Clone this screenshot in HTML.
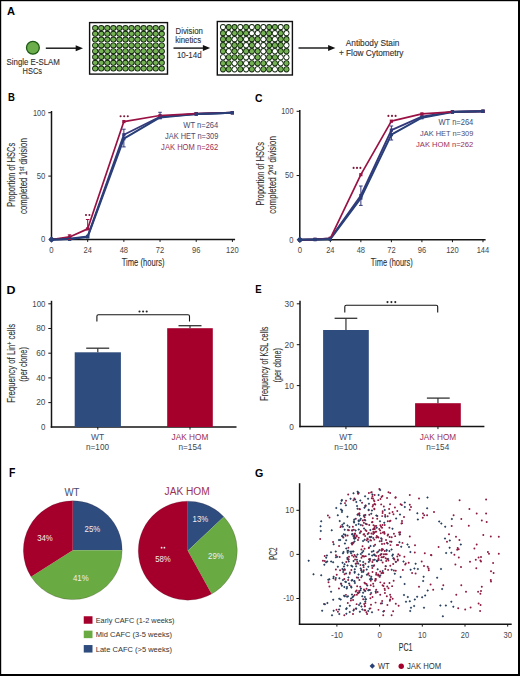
<!DOCTYPE html>
<html><head><meta charset="utf-8"><style>html,body{margin:0;padding:0;background:#fff;}svg{display:block;}</style></head>
<body><svg width="520" height="676" viewBox="0 0 520 676" font-family='"Liberation Sans", sans-serif'>
<rect width="520" height="676" fill="#fff"/>
<rect x="0.00" y="0.00" width="520.00" height="1.20" fill="#000"/>
<rect x="0.00" y="0.00" width="1.20" height="676.00" fill="#000"/>
<rect x="518.00" y="0.00" width="2.00" height="676.00" fill="#000"/>
<rect x="0.00" y="674.00" width="520.00" height="2.00" fill="#000"/>
<text x="7.00" y="15.00" font-size="11.63" fill="#000" stroke="#000" stroke-width="0" font-weight="bold" textLength="8.00" lengthAdjust="spacingAndGlyphs">A</text>
<circle cx="32.9" cy="47.8" r="6.4" fill="#6cae4c" stroke="#1e5a14" stroke-width="1.3"/>
<text x="6.50" y="64.80" font-size="8.87" fill="#2e2e2e" stroke="#2e2e2e" stroke-width="0.1" font-weight="normal" textLength="53.40" lengthAdjust="spacingAndGlyphs">Single E-SLAM</text>
<text x="22.60" y="74.20" font-size="9.16" fill="#2e2e2e" stroke="#2e2e2e" stroke-width="0.1" font-weight="normal" textLength="19.40" lengthAdjust="spacingAndGlyphs">HSCs</text>
<line x1="45.80" y1="48.20" x2="77.00" y2="48.20" stroke="#111" stroke-width="1.4"/>
<path d="M83.00,48.20 L75.70,45.20 L75.70,51.20 Z" fill="#111"/>
<line x1="173.50" y1="48.10" x2="204.20" y2="48.10" stroke="#111" stroke-width="1.4"/>
<path d="M210.20,48.10 L202.90,45.10 L202.90,51.10 Z" fill="#111"/>
<line x1="298.50" y1="48.00" x2="329.40" y2="48.00" stroke="#111" stroke-width="1.4"/>
<path d="M335.40,48.00 L328.10,45.00 L328.10,51.00 Z" fill="#111"/>
<text x="175.60" y="33.70" font-size="8.87" fill="#2e2e2e" stroke="#2e2e2e" stroke-width="0.1" font-weight="normal" textLength="27.30" lengthAdjust="spacingAndGlyphs">Division</text>
<text x="175.20" y="43.20" font-size="8.14" fill="#2e2e2e" stroke="#2e2e2e" stroke-width="0.1" font-weight="normal" textLength="25.90" lengthAdjust="spacingAndGlyphs">kinetics</text>
<text x="176.90" y="57.90" font-size="8.87" fill="#2e2e2e" stroke="#2e2e2e" stroke-width="0.1" font-weight="normal" textLength="24.70" lengthAdjust="spacingAndGlyphs">10-14d</text>
<text x="345.80" y="46.20" font-size="9.45" fill="#2e2e2e" stroke="#2e2e2e" stroke-width="0.1" font-weight="normal" textLength="53.60" lengthAdjust="spacingAndGlyphs">Antibody Stain</text>
<text x="338.90" y="55.90" font-size="8.14" fill="#2e2e2e" stroke="#2e2e2e" stroke-width="0.1" font-weight="normal" textLength="64.60" lengthAdjust="spacingAndGlyphs">+ Flow Cytometry</text>
<rect x="89.60" y="22.60" width="77.90" height="51.50" fill="#fff" stroke="#111" stroke-width="1.4"/>
<ellipse cx="95.20" cy="28.00" rx="3.12" ry="3.00" fill="#10260b"/>
<ellipse cx="101.25" cy="28.00" rx="3.12" ry="3.00" fill="#10260b"/>
<ellipse cx="107.30" cy="28.00" rx="3.12" ry="3.00" fill="#10260b"/>
<ellipse cx="113.35" cy="28.00" rx="3.12" ry="3.00" fill="#10260b"/>
<ellipse cx="119.40" cy="28.00" rx="3.12" ry="3.00" fill="#10260b"/>
<ellipse cx="125.45" cy="28.00" rx="3.12" ry="3.00" fill="#10260b"/>
<ellipse cx="131.50" cy="28.00" rx="3.12" ry="3.00" fill="#10260b"/>
<ellipse cx="137.55" cy="28.00" rx="3.12" ry="3.00" fill="#10260b"/>
<ellipse cx="143.60" cy="28.00" rx="3.12" ry="3.00" fill="#10260b"/>
<ellipse cx="149.65" cy="28.00" rx="3.12" ry="3.00" fill="#10260b"/>
<ellipse cx="155.70" cy="28.00" rx="3.12" ry="3.00" fill="#10260b"/>
<ellipse cx="161.75" cy="28.00" rx="3.12" ry="3.00" fill="#10260b"/>
<ellipse cx="95.20" cy="33.80" rx="3.12" ry="3.00" fill="#10260b"/>
<ellipse cx="101.25" cy="33.80" rx="3.12" ry="3.00" fill="#10260b"/>
<ellipse cx="107.30" cy="33.80" rx="3.12" ry="3.00" fill="#10260b"/>
<ellipse cx="113.35" cy="33.80" rx="3.12" ry="3.00" fill="#10260b"/>
<ellipse cx="119.40" cy="33.80" rx="3.12" ry="3.00" fill="#10260b"/>
<ellipse cx="125.45" cy="33.80" rx="3.12" ry="3.00" fill="#10260b"/>
<ellipse cx="131.50" cy="33.80" rx="3.12" ry="3.00" fill="#10260b"/>
<ellipse cx="137.55" cy="33.80" rx="3.12" ry="3.00" fill="#10260b"/>
<ellipse cx="143.60" cy="33.80" rx="3.12" ry="3.00" fill="#10260b"/>
<ellipse cx="149.65" cy="33.80" rx="3.12" ry="3.00" fill="#10260b"/>
<ellipse cx="155.70" cy="33.80" rx="3.12" ry="3.00" fill="#10260b"/>
<ellipse cx="161.75" cy="33.80" rx="3.12" ry="3.00" fill="#10260b"/>
<ellipse cx="95.20" cy="39.60" rx="3.12" ry="3.00" fill="#10260b"/>
<ellipse cx="101.25" cy="39.60" rx="3.12" ry="3.00" fill="#10260b"/>
<ellipse cx="107.30" cy="39.60" rx="3.12" ry="3.00" fill="#10260b"/>
<ellipse cx="113.35" cy="39.60" rx="3.12" ry="3.00" fill="#10260b"/>
<ellipse cx="119.40" cy="39.60" rx="3.12" ry="3.00" fill="#10260b"/>
<ellipse cx="125.45" cy="39.60" rx="3.12" ry="3.00" fill="#10260b"/>
<ellipse cx="131.50" cy="39.60" rx="3.12" ry="3.00" fill="#10260b"/>
<ellipse cx="137.55" cy="39.60" rx="3.12" ry="3.00" fill="#10260b"/>
<ellipse cx="143.60" cy="39.60" rx="3.12" ry="3.00" fill="#10260b"/>
<ellipse cx="149.65" cy="39.60" rx="3.12" ry="3.00" fill="#10260b"/>
<ellipse cx="155.70" cy="39.60" rx="3.12" ry="3.00" fill="#10260b"/>
<ellipse cx="161.75" cy="39.60" rx="3.12" ry="3.00" fill="#10260b"/>
<ellipse cx="95.20" cy="45.40" rx="3.12" ry="3.00" fill="#10260b"/>
<ellipse cx="101.25" cy="45.40" rx="3.12" ry="3.00" fill="#10260b"/>
<ellipse cx="107.30" cy="45.40" rx="3.12" ry="3.00" fill="#10260b"/>
<ellipse cx="113.35" cy="45.40" rx="3.12" ry="3.00" fill="#10260b"/>
<ellipse cx="119.40" cy="45.40" rx="3.12" ry="3.00" fill="#10260b"/>
<ellipse cx="125.45" cy="45.40" rx="3.12" ry="3.00" fill="#10260b"/>
<ellipse cx="131.50" cy="45.40" rx="3.12" ry="3.00" fill="#10260b"/>
<ellipse cx="137.55" cy="45.40" rx="3.12" ry="3.00" fill="#10260b"/>
<ellipse cx="143.60" cy="45.40" rx="3.12" ry="3.00" fill="#10260b"/>
<ellipse cx="149.65" cy="45.40" rx="3.12" ry="3.00" fill="#10260b"/>
<ellipse cx="155.70" cy="45.40" rx="3.12" ry="3.00" fill="#10260b"/>
<ellipse cx="161.75" cy="45.40" rx="3.12" ry="3.00" fill="#10260b"/>
<ellipse cx="95.20" cy="51.20" rx="3.12" ry="3.00" fill="#10260b"/>
<ellipse cx="101.25" cy="51.20" rx="3.12" ry="3.00" fill="#10260b"/>
<ellipse cx="107.30" cy="51.20" rx="3.12" ry="3.00" fill="#10260b"/>
<ellipse cx="113.35" cy="51.20" rx="3.12" ry="3.00" fill="#10260b"/>
<ellipse cx="119.40" cy="51.20" rx="3.12" ry="3.00" fill="#10260b"/>
<ellipse cx="125.45" cy="51.20" rx="3.12" ry="3.00" fill="#10260b"/>
<ellipse cx="131.50" cy="51.20" rx="3.12" ry="3.00" fill="#10260b"/>
<ellipse cx="137.55" cy="51.20" rx="3.12" ry="3.00" fill="#10260b"/>
<ellipse cx="143.60" cy="51.20" rx="3.12" ry="3.00" fill="#10260b"/>
<ellipse cx="149.65" cy="51.20" rx="3.12" ry="3.00" fill="#10260b"/>
<ellipse cx="155.70" cy="51.20" rx="3.12" ry="3.00" fill="#10260b"/>
<ellipse cx="161.75" cy="51.20" rx="3.12" ry="3.00" fill="#10260b"/>
<ellipse cx="95.20" cy="57.00" rx="3.12" ry="3.00" fill="#10260b"/>
<ellipse cx="101.25" cy="57.00" rx="3.12" ry="3.00" fill="#10260b"/>
<ellipse cx="107.30" cy="57.00" rx="3.12" ry="3.00" fill="#10260b"/>
<ellipse cx="113.35" cy="57.00" rx="3.12" ry="3.00" fill="#10260b"/>
<ellipse cx="119.40" cy="57.00" rx="3.12" ry="3.00" fill="#10260b"/>
<ellipse cx="125.45" cy="57.00" rx="3.12" ry="3.00" fill="#10260b"/>
<ellipse cx="131.50" cy="57.00" rx="3.12" ry="3.00" fill="#10260b"/>
<ellipse cx="137.55" cy="57.00" rx="3.12" ry="3.00" fill="#10260b"/>
<ellipse cx="143.60" cy="57.00" rx="3.12" ry="3.00" fill="#10260b"/>
<ellipse cx="149.65" cy="57.00" rx="3.12" ry="3.00" fill="#10260b"/>
<ellipse cx="155.70" cy="57.00" rx="3.12" ry="3.00" fill="#10260b"/>
<ellipse cx="161.75" cy="57.00" rx="3.12" ry="3.00" fill="#10260b"/>
<ellipse cx="95.20" cy="62.80" rx="3.12" ry="3.00" fill="#10260b"/>
<ellipse cx="101.25" cy="62.80" rx="3.12" ry="3.00" fill="#10260b"/>
<ellipse cx="107.30" cy="62.80" rx="3.12" ry="3.00" fill="#10260b"/>
<ellipse cx="113.35" cy="62.80" rx="3.12" ry="3.00" fill="#10260b"/>
<ellipse cx="119.40" cy="62.80" rx="3.12" ry="3.00" fill="#10260b"/>
<ellipse cx="125.45" cy="62.80" rx="3.12" ry="3.00" fill="#10260b"/>
<ellipse cx="131.50" cy="62.80" rx="3.12" ry="3.00" fill="#10260b"/>
<ellipse cx="137.55" cy="62.80" rx="3.12" ry="3.00" fill="#10260b"/>
<ellipse cx="143.60" cy="62.80" rx="3.12" ry="3.00" fill="#10260b"/>
<ellipse cx="149.65" cy="62.80" rx="3.12" ry="3.00" fill="#10260b"/>
<ellipse cx="155.70" cy="62.80" rx="3.12" ry="3.00" fill="#10260b"/>
<ellipse cx="161.75" cy="62.80" rx="3.12" ry="3.00" fill="#10260b"/>
<ellipse cx="95.20" cy="68.60" rx="3.12" ry="3.00" fill="#10260b"/>
<ellipse cx="101.25" cy="68.60" rx="3.12" ry="3.00" fill="#10260b"/>
<ellipse cx="107.30" cy="68.60" rx="3.12" ry="3.00" fill="#10260b"/>
<ellipse cx="113.35" cy="68.60" rx="3.12" ry="3.00" fill="#10260b"/>
<ellipse cx="119.40" cy="68.60" rx="3.12" ry="3.00" fill="#10260b"/>
<ellipse cx="125.45" cy="68.60" rx="3.12" ry="3.00" fill="#10260b"/>
<ellipse cx="131.50" cy="68.60" rx="3.12" ry="3.00" fill="#10260b"/>
<ellipse cx="137.55" cy="68.60" rx="3.12" ry="3.00" fill="#10260b"/>
<ellipse cx="143.60" cy="68.60" rx="3.12" ry="3.00" fill="#10260b"/>
<ellipse cx="149.65" cy="68.60" rx="3.12" ry="3.00" fill="#10260b"/>
<ellipse cx="155.70" cy="68.60" rx="3.12" ry="3.00" fill="#10260b"/>
<ellipse cx="161.75" cy="68.60" rx="3.12" ry="3.00" fill="#10260b"/>
<ellipse cx="95.20" cy="28.00" rx="2.22" ry="2.10" fill="#74b254"/>
<ellipse cx="101.25" cy="28.00" rx="2.22" ry="2.10" fill="#74b254"/>
<ellipse cx="107.30" cy="28.00" rx="2.22" ry="2.10" fill="#74b254"/>
<ellipse cx="113.35" cy="28.00" rx="2.22" ry="2.10" fill="#74b254"/>
<ellipse cx="119.40" cy="28.00" rx="2.22" ry="2.10" fill="#74b254"/>
<ellipse cx="125.45" cy="28.00" rx="2.22" ry="2.10" fill="#74b254"/>
<ellipse cx="131.50" cy="28.00" rx="2.22" ry="2.10" fill="#74b254"/>
<ellipse cx="137.55" cy="28.00" rx="2.22" ry="2.10" fill="#74b254"/>
<ellipse cx="143.60" cy="28.00" rx="2.22" ry="2.10" fill="#74b254"/>
<ellipse cx="149.65" cy="28.00" rx="2.22" ry="2.10" fill="#74b254"/>
<ellipse cx="155.70" cy="28.00" rx="2.22" ry="2.10" fill="#74b254"/>
<ellipse cx="161.75" cy="28.00" rx="2.22" ry="2.10" fill="#74b254"/>
<ellipse cx="95.20" cy="33.80" rx="2.22" ry="2.10" fill="#74b254"/>
<ellipse cx="101.25" cy="33.80" rx="2.22" ry="2.10" fill="#74b254"/>
<ellipse cx="107.30" cy="33.80" rx="2.22" ry="2.10" fill="#74b254"/>
<ellipse cx="113.35" cy="33.80" rx="2.22" ry="2.10" fill="#74b254"/>
<ellipse cx="119.40" cy="33.80" rx="2.22" ry="2.10" fill="#74b254"/>
<ellipse cx="125.45" cy="33.80" rx="2.22" ry="2.10" fill="#74b254"/>
<ellipse cx="131.50" cy="33.80" rx="2.22" ry="2.10" fill="#74b254"/>
<ellipse cx="137.55" cy="33.80" rx="2.22" ry="2.10" fill="#74b254"/>
<ellipse cx="143.60" cy="33.80" rx="2.22" ry="2.10" fill="#74b254"/>
<ellipse cx="149.65" cy="33.80" rx="2.22" ry="2.10" fill="#74b254"/>
<ellipse cx="155.70" cy="33.80" rx="2.22" ry="2.10" fill="#74b254"/>
<ellipse cx="161.75" cy="33.80" rx="2.22" ry="2.10" fill="#74b254"/>
<ellipse cx="95.20" cy="39.60" rx="2.22" ry="2.10" fill="#74b254"/>
<ellipse cx="101.25" cy="39.60" rx="2.22" ry="2.10" fill="#74b254"/>
<ellipse cx="107.30" cy="39.60" rx="2.22" ry="2.10" fill="#74b254"/>
<ellipse cx="113.35" cy="39.60" rx="2.22" ry="2.10" fill="#74b254"/>
<ellipse cx="119.40" cy="39.60" rx="2.22" ry="2.10" fill="#74b254"/>
<ellipse cx="125.45" cy="39.60" rx="2.22" ry="2.10" fill="#74b254"/>
<ellipse cx="131.50" cy="39.60" rx="2.22" ry="2.10" fill="#74b254"/>
<ellipse cx="137.55" cy="39.60" rx="2.22" ry="2.10" fill="#74b254"/>
<ellipse cx="143.60" cy="39.60" rx="2.22" ry="2.10" fill="#74b254"/>
<ellipse cx="149.65" cy="39.60" rx="2.22" ry="2.10" fill="#74b254"/>
<ellipse cx="155.70" cy="39.60" rx="2.22" ry="2.10" fill="#74b254"/>
<ellipse cx="161.75" cy="39.60" rx="2.22" ry="2.10" fill="#74b254"/>
<ellipse cx="95.20" cy="45.40" rx="2.22" ry="2.10" fill="#74b254"/>
<ellipse cx="101.25" cy="45.40" rx="2.22" ry="2.10" fill="#74b254"/>
<ellipse cx="107.30" cy="45.40" rx="2.22" ry="2.10" fill="#74b254"/>
<ellipse cx="113.35" cy="45.40" rx="2.22" ry="2.10" fill="#74b254"/>
<ellipse cx="119.40" cy="45.40" rx="2.22" ry="2.10" fill="#74b254"/>
<ellipse cx="125.45" cy="45.40" rx="2.22" ry="2.10" fill="#74b254"/>
<ellipse cx="131.50" cy="45.40" rx="2.22" ry="2.10" fill="#74b254"/>
<ellipse cx="137.55" cy="45.40" rx="2.22" ry="2.10" fill="#74b254"/>
<ellipse cx="143.60" cy="45.40" rx="2.22" ry="2.10" fill="#74b254"/>
<ellipse cx="149.65" cy="45.40" rx="2.22" ry="2.10" fill="#74b254"/>
<ellipse cx="155.70" cy="45.40" rx="2.22" ry="2.10" fill="#74b254"/>
<ellipse cx="161.75" cy="45.40" rx="2.22" ry="2.10" fill="#74b254"/>
<ellipse cx="95.20" cy="51.20" rx="2.22" ry="2.10" fill="#74b254"/>
<ellipse cx="101.25" cy="51.20" rx="2.22" ry="2.10" fill="#74b254"/>
<ellipse cx="107.30" cy="51.20" rx="2.22" ry="2.10" fill="#74b254"/>
<ellipse cx="113.35" cy="51.20" rx="2.22" ry="2.10" fill="#74b254"/>
<ellipse cx="119.40" cy="51.20" rx="2.22" ry="2.10" fill="#74b254"/>
<ellipse cx="125.45" cy="51.20" rx="2.22" ry="2.10" fill="#74b254"/>
<ellipse cx="131.50" cy="51.20" rx="2.22" ry="2.10" fill="#74b254"/>
<ellipse cx="137.55" cy="51.20" rx="2.22" ry="2.10" fill="#74b254"/>
<ellipse cx="143.60" cy="51.20" rx="2.22" ry="2.10" fill="#74b254"/>
<ellipse cx="149.65" cy="51.20" rx="2.22" ry="2.10" fill="#74b254"/>
<ellipse cx="155.70" cy="51.20" rx="2.22" ry="2.10" fill="#74b254"/>
<ellipse cx="161.75" cy="51.20" rx="2.22" ry="2.10" fill="#74b254"/>
<ellipse cx="95.20" cy="57.00" rx="2.22" ry="2.10" fill="#74b254"/>
<ellipse cx="101.25" cy="57.00" rx="2.22" ry="2.10" fill="#74b254"/>
<ellipse cx="107.30" cy="57.00" rx="2.22" ry="2.10" fill="#74b254"/>
<ellipse cx="113.35" cy="57.00" rx="2.22" ry="2.10" fill="#74b254"/>
<ellipse cx="119.40" cy="57.00" rx="2.22" ry="2.10" fill="#74b254"/>
<ellipse cx="125.45" cy="57.00" rx="2.22" ry="2.10" fill="#74b254"/>
<ellipse cx="131.50" cy="57.00" rx="2.22" ry="2.10" fill="#74b254"/>
<ellipse cx="137.55" cy="57.00" rx="2.22" ry="2.10" fill="#74b254"/>
<ellipse cx="143.60" cy="57.00" rx="2.22" ry="2.10" fill="#74b254"/>
<ellipse cx="149.65" cy="57.00" rx="2.22" ry="2.10" fill="#74b254"/>
<ellipse cx="155.70" cy="57.00" rx="2.22" ry="2.10" fill="#74b254"/>
<ellipse cx="161.75" cy="57.00" rx="2.22" ry="2.10" fill="#74b254"/>
<ellipse cx="95.20" cy="62.80" rx="2.22" ry="2.10" fill="#74b254"/>
<ellipse cx="101.25" cy="62.80" rx="2.22" ry="2.10" fill="#74b254"/>
<ellipse cx="107.30" cy="62.80" rx="2.22" ry="2.10" fill="#74b254"/>
<ellipse cx="113.35" cy="62.80" rx="2.22" ry="2.10" fill="#74b254"/>
<ellipse cx="119.40" cy="62.80" rx="2.22" ry="2.10" fill="#74b254"/>
<ellipse cx="125.45" cy="62.80" rx="2.22" ry="2.10" fill="#74b254"/>
<ellipse cx="131.50" cy="62.80" rx="2.22" ry="2.10" fill="#74b254"/>
<ellipse cx="137.55" cy="62.80" rx="2.22" ry="2.10" fill="#74b254"/>
<ellipse cx="143.60" cy="62.80" rx="2.22" ry="2.10" fill="#74b254"/>
<ellipse cx="149.65" cy="62.80" rx="2.22" ry="2.10" fill="#74b254"/>
<ellipse cx="155.70" cy="62.80" rx="2.22" ry="2.10" fill="#74b254"/>
<ellipse cx="161.75" cy="62.80" rx="2.22" ry="2.10" fill="#74b254"/>
<ellipse cx="95.20" cy="68.60" rx="2.22" ry="2.10" fill="#74b254"/>
<ellipse cx="101.25" cy="68.60" rx="2.22" ry="2.10" fill="#74b254"/>
<ellipse cx="107.30" cy="68.60" rx="2.22" ry="2.10" fill="#74b254"/>
<ellipse cx="113.35" cy="68.60" rx="2.22" ry="2.10" fill="#74b254"/>
<ellipse cx="119.40" cy="68.60" rx="2.22" ry="2.10" fill="#74b254"/>
<ellipse cx="125.45" cy="68.60" rx="2.22" ry="2.10" fill="#74b254"/>
<ellipse cx="131.50" cy="68.60" rx="2.22" ry="2.10" fill="#74b254"/>
<ellipse cx="137.55" cy="68.60" rx="2.22" ry="2.10" fill="#74b254"/>
<ellipse cx="143.60" cy="68.60" rx="2.22" ry="2.10" fill="#74b254"/>
<ellipse cx="149.65" cy="68.60" rx="2.22" ry="2.10" fill="#74b254"/>
<ellipse cx="155.70" cy="68.60" rx="2.22" ry="2.10" fill="#74b254"/>
<ellipse cx="161.75" cy="68.60" rx="2.22" ry="2.10" fill="#74b254"/>
<rect x="217.30" y="21.50" width="75.10" height="53.50" fill="#fff" stroke="#111" stroke-width="1.4"/>
<ellipse cx="223.00" cy="27.10" rx="2.98" ry="3.12" fill="#10260b"/>
<ellipse cx="228.77" cy="27.10" rx="2.98" ry="3.12" fill="#10260b"/>
<ellipse cx="234.54" cy="27.10" rx="2.98" ry="3.12" fill="#10260b"/>
<ellipse cx="240.31" cy="27.10" rx="2.98" ry="3.12" fill="#10260b"/>
<ellipse cx="246.08" cy="27.10" rx="2.98" ry="3.12" fill="#10260b"/>
<ellipse cx="251.85" cy="27.10" rx="2.98" ry="3.12" fill="#10260b"/>
<ellipse cx="257.62" cy="27.10" rx="2.98" ry="3.12" fill="#10260b"/>
<ellipse cx="263.39" cy="27.10" rx="2.98" ry="3.12" fill="#10260b"/>
<ellipse cx="269.16" cy="27.10" rx="2.98" ry="3.12" fill="#10260b"/>
<ellipse cx="274.93" cy="27.10" rx="2.98" ry="3.12" fill="#10260b"/>
<ellipse cx="280.70" cy="27.10" rx="2.98" ry="3.12" fill="#10260b"/>
<ellipse cx="286.47" cy="27.10" rx="2.98" ry="3.12" fill="#10260b"/>
<ellipse cx="223.00" cy="33.13" rx="2.98" ry="3.12" fill="#10260b"/>
<ellipse cx="228.77" cy="33.13" rx="2.98" ry="3.12" fill="#10260b"/>
<ellipse cx="234.54" cy="33.13" rx="2.98" ry="3.12" fill="#10260b"/>
<ellipse cx="240.31" cy="33.13" rx="2.98" ry="3.12" fill="#10260b"/>
<ellipse cx="246.08" cy="33.13" rx="2.98" ry="3.12" fill="#10260b"/>
<ellipse cx="251.85" cy="33.13" rx="2.98" ry="3.12" fill="#10260b"/>
<ellipse cx="257.62" cy="33.13" rx="2.98" ry="3.12" fill="#10260b"/>
<ellipse cx="263.39" cy="33.13" rx="2.98" ry="3.12" fill="#10260b"/>
<ellipse cx="269.16" cy="33.13" rx="2.98" ry="3.12" fill="#10260b"/>
<ellipse cx="274.93" cy="33.13" rx="2.98" ry="3.12" fill="#10260b"/>
<ellipse cx="280.70" cy="33.13" rx="2.98" ry="3.12" fill="#10260b"/>
<ellipse cx="286.47" cy="33.13" rx="2.98" ry="3.12" fill="#10260b"/>
<ellipse cx="223.00" cy="39.16" rx="2.98" ry="3.12" fill="#10260b"/>
<ellipse cx="228.77" cy="39.16" rx="2.98" ry="3.12" fill="#10260b"/>
<ellipse cx="234.54" cy="39.16" rx="2.98" ry="3.12" fill="#10260b"/>
<ellipse cx="240.31" cy="39.16" rx="2.98" ry="3.12" fill="#10260b"/>
<ellipse cx="246.08" cy="39.16" rx="2.98" ry="3.12" fill="#10260b"/>
<ellipse cx="251.85" cy="39.16" rx="2.98" ry="3.12" fill="#10260b"/>
<ellipse cx="257.62" cy="39.16" rx="2.98" ry="3.12" fill="#10260b"/>
<ellipse cx="263.39" cy="39.16" rx="2.98" ry="3.12" fill="#10260b"/>
<ellipse cx="269.16" cy="39.16" rx="2.98" ry="3.12" fill="#10260b"/>
<ellipse cx="274.93" cy="39.16" rx="2.98" ry="3.12" fill="#10260b"/>
<ellipse cx="280.70" cy="39.16" rx="2.98" ry="3.12" fill="#10260b"/>
<ellipse cx="286.47" cy="39.16" rx="2.98" ry="3.12" fill="#10260b"/>
<ellipse cx="223.00" cy="45.19" rx="2.98" ry="3.12" fill="#10260b"/>
<ellipse cx="228.77" cy="45.19" rx="2.98" ry="3.12" fill="#10260b"/>
<ellipse cx="234.54" cy="45.19" rx="2.98" ry="3.12" fill="#10260b"/>
<ellipse cx="240.31" cy="45.19" rx="2.98" ry="3.12" fill="#10260b"/>
<ellipse cx="246.08" cy="45.19" rx="2.98" ry="3.12" fill="#10260b"/>
<ellipse cx="251.85" cy="45.19" rx="2.98" ry="3.12" fill="#10260b"/>
<ellipse cx="257.62" cy="45.19" rx="2.98" ry="3.12" fill="#10260b"/>
<ellipse cx="263.39" cy="45.19" rx="2.98" ry="3.12" fill="#10260b"/>
<ellipse cx="269.16" cy="45.19" rx="2.98" ry="3.12" fill="#10260b"/>
<ellipse cx="274.93" cy="45.19" rx="2.98" ry="3.12" fill="#10260b"/>
<ellipse cx="280.70" cy="45.19" rx="2.98" ry="3.12" fill="#10260b"/>
<ellipse cx="286.47" cy="45.19" rx="2.98" ry="3.12" fill="#10260b"/>
<ellipse cx="223.00" cy="51.22" rx="2.98" ry="3.12" fill="#10260b"/>
<ellipse cx="228.77" cy="51.22" rx="2.98" ry="3.12" fill="#10260b"/>
<ellipse cx="234.54" cy="51.22" rx="2.98" ry="3.12" fill="#10260b"/>
<ellipse cx="240.31" cy="51.22" rx="2.98" ry="3.12" fill="#10260b"/>
<ellipse cx="246.08" cy="51.22" rx="2.98" ry="3.12" fill="#10260b"/>
<ellipse cx="251.85" cy="51.22" rx="2.98" ry="3.12" fill="#10260b"/>
<ellipse cx="257.62" cy="51.22" rx="2.98" ry="3.12" fill="#10260b"/>
<ellipse cx="263.39" cy="51.22" rx="2.98" ry="3.12" fill="#10260b"/>
<ellipse cx="269.16" cy="51.22" rx="2.98" ry="3.12" fill="#10260b"/>
<ellipse cx="274.93" cy="51.22" rx="2.98" ry="3.12" fill="#10260b"/>
<ellipse cx="280.70" cy="51.22" rx="2.98" ry="3.12" fill="#10260b"/>
<ellipse cx="286.47" cy="51.22" rx="2.98" ry="3.12" fill="#10260b"/>
<ellipse cx="223.00" cy="57.25" rx="2.98" ry="3.12" fill="#10260b"/>
<ellipse cx="228.77" cy="57.25" rx="2.98" ry="3.12" fill="#10260b"/>
<ellipse cx="234.54" cy="57.25" rx="2.98" ry="3.12" fill="#10260b"/>
<ellipse cx="240.31" cy="57.25" rx="2.98" ry="3.12" fill="#10260b"/>
<ellipse cx="246.08" cy="57.25" rx="2.98" ry="3.12" fill="#10260b"/>
<ellipse cx="251.85" cy="57.25" rx="2.98" ry="3.12" fill="#10260b"/>
<ellipse cx="257.62" cy="57.25" rx="2.98" ry="3.12" fill="#10260b"/>
<ellipse cx="263.39" cy="57.25" rx="2.98" ry="3.12" fill="#10260b"/>
<ellipse cx="269.16" cy="57.25" rx="2.98" ry="3.12" fill="#10260b"/>
<ellipse cx="274.93" cy="57.25" rx="2.98" ry="3.12" fill="#10260b"/>
<ellipse cx="280.70" cy="57.25" rx="2.98" ry="3.12" fill="#10260b"/>
<ellipse cx="286.47" cy="57.25" rx="2.98" ry="3.12" fill="#10260b"/>
<ellipse cx="223.00" cy="63.28" rx="2.98" ry="3.12" fill="#10260b"/>
<ellipse cx="228.77" cy="63.28" rx="2.98" ry="3.12" fill="#10260b"/>
<ellipse cx="234.54" cy="63.28" rx="2.98" ry="3.12" fill="#10260b"/>
<ellipse cx="240.31" cy="63.28" rx="2.98" ry="3.12" fill="#10260b"/>
<ellipse cx="246.08" cy="63.28" rx="2.98" ry="3.12" fill="#10260b"/>
<ellipse cx="251.85" cy="63.28" rx="2.98" ry="3.12" fill="#10260b"/>
<ellipse cx="257.62" cy="63.28" rx="2.98" ry="3.12" fill="#10260b"/>
<ellipse cx="263.39" cy="63.28" rx="2.98" ry="3.12" fill="#10260b"/>
<ellipse cx="269.16" cy="63.28" rx="2.98" ry="3.12" fill="#10260b"/>
<ellipse cx="274.93" cy="63.28" rx="2.98" ry="3.12" fill="#10260b"/>
<ellipse cx="280.70" cy="63.28" rx="2.98" ry="3.12" fill="#10260b"/>
<ellipse cx="286.47" cy="63.28" rx="2.98" ry="3.12" fill="#10260b"/>
<ellipse cx="223.00" cy="69.31" rx="2.98" ry="3.12" fill="#10260b"/>
<ellipse cx="228.77" cy="69.31" rx="2.98" ry="3.12" fill="#10260b"/>
<ellipse cx="234.54" cy="69.31" rx="2.98" ry="3.12" fill="#10260b"/>
<ellipse cx="240.31" cy="69.31" rx="2.98" ry="3.12" fill="#10260b"/>
<ellipse cx="246.08" cy="69.31" rx="2.98" ry="3.12" fill="#10260b"/>
<ellipse cx="251.85" cy="69.31" rx="2.98" ry="3.12" fill="#10260b"/>
<ellipse cx="257.62" cy="69.31" rx="2.98" ry="3.12" fill="#10260b"/>
<ellipse cx="263.39" cy="69.31" rx="2.98" ry="3.12" fill="#10260b"/>
<ellipse cx="269.16" cy="69.31" rx="2.98" ry="3.12" fill="#10260b"/>
<ellipse cx="274.93" cy="69.31" rx="2.98" ry="3.12" fill="#10260b"/>
<ellipse cx="280.70" cy="69.31" rx="2.98" ry="3.12" fill="#10260b"/>
<ellipse cx="286.47" cy="69.31" rx="2.98" ry="3.12" fill="#10260b"/>
<ellipse cx="223.00" cy="27.10" rx="2.08" ry="2.21" fill="#ffffff"/>
<ellipse cx="228.77" cy="27.10" rx="2.08" ry="2.21" fill="#74b254"/>
<ellipse cx="234.54" cy="27.10" rx="2.08" ry="2.21" fill="#74b254"/>
<ellipse cx="240.31" cy="27.10" rx="2.08" ry="2.21" fill="#ffffff"/>
<ellipse cx="246.08" cy="27.10" rx="2.08" ry="2.21" fill="#74b254"/>
<ellipse cx="251.85" cy="27.10" rx="2.08" ry="2.21" fill="#ffffff"/>
<ellipse cx="257.62" cy="27.10" rx="2.08" ry="2.21" fill="#74b254"/>
<ellipse cx="263.39" cy="27.10" rx="2.08" ry="2.21" fill="#ffffff"/>
<ellipse cx="269.16" cy="27.10" rx="2.08" ry="2.21" fill="#74b254"/>
<ellipse cx="274.93" cy="27.10" rx="2.08" ry="2.21" fill="#74b254"/>
<ellipse cx="280.70" cy="27.10" rx="2.08" ry="2.21" fill="#ffffff"/>
<ellipse cx="286.47" cy="27.10" rx="2.08" ry="2.21" fill="#74b254"/>
<ellipse cx="223.00" cy="33.13" rx="2.08" ry="2.21" fill="#74b254"/>
<ellipse cx="228.77" cy="33.13" rx="2.08" ry="2.21" fill="#ffffff"/>
<ellipse cx="234.54" cy="33.13" rx="2.08" ry="2.21" fill="#74b254"/>
<ellipse cx="240.31" cy="33.13" rx="2.08" ry="2.21" fill="#74b254"/>
<ellipse cx="246.08" cy="33.13" rx="2.08" ry="2.21" fill="#74b254"/>
<ellipse cx="251.85" cy="33.13" rx="2.08" ry="2.21" fill="#ffffff"/>
<ellipse cx="257.62" cy="33.13" rx="2.08" ry="2.21" fill="#ffffff"/>
<ellipse cx="263.39" cy="33.13" rx="2.08" ry="2.21" fill="#74b254"/>
<ellipse cx="269.16" cy="33.13" rx="2.08" ry="2.21" fill="#74b254"/>
<ellipse cx="274.93" cy="33.13" rx="2.08" ry="2.21" fill="#ffffff"/>
<ellipse cx="280.70" cy="33.13" rx="2.08" ry="2.21" fill="#74b254"/>
<ellipse cx="286.47" cy="33.13" rx="2.08" ry="2.21" fill="#ffffff"/>
<ellipse cx="223.00" cy="39.16" rx="2.08" ry="2.21" fill="#74b254"/>
<ellipse cx="228.77" cy="39.16" rx="2.08" ry="2.21" fill="#74b254"/>
<ellipse cx="234.54" cy="39.16" rx="2.08" ry="2.21" fill="#ffffff"/>
<ellipse cx="240.31" cy="39.16" rx="2.08" ry="2.21" fill="#74b254"/>
<ellipse cx="246.08" cy="39.16" rx="2.08" ry="2.21" fill="#ffffff"/>
<ellipse cx="251.85" cy="39.16" rx="2.08" ry="2.21" fill="#74b254"/>
<ellipse cx="257.62" cy="39.16" rx="2.08" ry="2.21" fill="#74b254"/>
<ellipse cx="263.39" cy="39.16" rx="2.08" ry="2.21" fill="#ffffff"/>
<ellipse cx="269.16" cy="39.16" rx="2.08" ry="2.21" fill="#74b254"/>
<ellipse cx="274.93" cy="39.16" rx="2.08" ry="2.21" fill="#ffffff"/>
<ellipse cx="280.70" cy="39.16" rx="2.08" ry="2.21" fill="#74b254"/>
<ellipse cx="286.47" cy="39.16" rx="2.08" ry="2.21" fill="#74b254"/>
<ellipse cx="223.00" cy="45.19" rx="2.08" ry="2.21" fill="#74b254"/>
<ellipse cx="228.77" cy="45.19" rx="2.08" ry="2.21" fill="#ffffff"/>
<ellipse cx="234.54" cy="45.19" rx="2.08" ry="2.21" fill="#74b254"/>
<ellipse cx="240.31" cy="45.19" rx="2.08" ry="2.21" fill="#74b254"/>
<ellipse cx="246.08" cy="45.19" rx="2.08" ry="2.21" fill="#ffffff"/>
<ellipse cx="251.85" cy="45.19" rx="2.08" ry="2.21" fill="#74b254"/>
<ellipse cx="257.62" cy="45.19" rx="2.08" ry="2.21" fill="#ffffff"/>
<ellipse cx="263.39" cy="45.19" rx="2.08" ry="2.21" fill="#ffffff"/>
<ellipse cx="269.16" cy="45.19" rx="2.08" ry="2.21" fill="#74b254"/>
<ellipse cx="274.93" cy="45.19" rx="2.08" ry="2.21" fill="#74b254"/>
<ellipse cx="280.70" cy="45.19" rx="2.08" ry="2.21" fill="#74b254"/>
<ellipse cx="286.47" cy="45.19" rx="2.08" ry="2.21" fill="#ffffff"/>
<ellipse cx="223.00" cy="51.22" rx="2.08" ry="2.21" fill="#74b254"/>
<ellipse cx="228.77" cy="51.22" rx="2.08" ry="2.21" fill="#ffffff"/>
<ellipse cx="234.54" cy="51.22" rx="2.08" ry="2.21" fill="#74b254"/>
<ellipse cx="240.31" cy="51.22" rx="2.08" ry="2.21" fill="#ffffff"/>
<ellipse cx="246.08" cy="51.22" rx="2.08" ry="2.21" fill="#74b254"/>
<ellipse cx="251.85" cy="51.22" rx="2.08" ry="2.21" fill="#74b254"/>
<ellipse cx="257.62" cy="51.22" rx="2.08" ry="2.21" fill="#74b254"/>
<ellipse cx="263.39" cy="51.22" rx="2.08" ry="2.21" fill="#ffffff"/>
<ellipse cx="269.16" cy="51.22" rx="2.08" ry="2.21" fill="#74b254"/>
<ellipse cx="274.93" cy="51.22" rx="2.08" ry="2.21" fill="#ffffff"/>
<ellipse cx="280.70" cy="51.22" rx="2.08" ry="2.21" fill="#74b254"/>
<ellipse cx="286.47" cy="51.22" rx="2.08" ry="2.21" fill="#74b254"/>
<ellipse cx="223.00" cy="57.25" rx="2.08" ry="2.21" fill="#ffffff"/>
<ellipse cx="228.77" cy="57.25" rx="2.08" ry="2.21" fill="#74b254"/>
<ellipse cx="234.54" cy="57.25" rx="2.08" ry="2.21" fill="#74b254"/>
<ellipse cx="240.31" cy="57.25" rx="2.08" ry="2.21" fill="#74b254"/>
<ellipse cx="246.08" cy="57.25" rx="2.08" ry="2.21" fill="#ffffff"/>
<ellipse cx="251.85" cy="57.25" rx="2.08" ry="2.21" fill="#ffffff"/>
<ellipse cx="257.62" cy="57.25" rx="2.08" ry="2.21" fill="#74b254"/>
<ellipse cx="263.39" cy="57.25" rx="2.08" ry="2.21" fill="#ffffff"/>
<ellipse cx="269.16" cy="57.25" rx="2.08" ry="2.21" fill="#74b254"/>
<ellipse cx="274.93" cy="57.25" rx="2.08" ry="2.21" fill="#74b254"/>
<ellipse cx="280.70" cy="57.25" rx="2.08" ry="2.21" fill="#ffffff"/>
<ellipse cx="286.47" cy="57.25" rx="2.08" ry="2.21" fill="#ffffff"/>
<ellipse cx="223.00" cy="63.28" rx="2.08" ry="2.21" fill="#74b254"/>
<ellipse cx="228.77" cy="63.28" rx="2.08" ry="2.21" fill="#74b254"/>
<ellipse cx="234.54" cy="63.28" rx="2.08" ry="2.21" fill="#ffffff"/>
<ellipse cx="240.31" cy="63.28" rx="2.08" ry="2.21" fill="#74b254"/>
<ellipse cx="246.08" cy="63.28" rx="2.08" ry="2.21" fill="#ffffff"/>
<ellipse cx="251.85" cy="63.28" rx="2.08" ry="2.21" fill="#74b254"/>
<ellipse cx="257.62" cy="63.28" rx="2.08" ry="2.21" fill="#74b254"/>
<ellipse cx="263.39" cy="63.28" rx="2.08" ry="2.21" fill="#74b254"/>
<ellipse cx="269.16" cy="63.28" rx="2.08" ry="2.21" fill="#ffffff"/>
<ellipse cx="274.93" cy="63.28" rx="2.08" ry="2.21" fill="#74b254"/>
<ellipse cx="280.70" cy="63.28" rx="2.08" ry="2.21" fill="#ffffff"/>
<ellipse cx="286.47" cy="63.28" rx="2.08" ry="2.21" fill="#74b254"/>
<ellipse cx="223.00" cy="69.31" rx="2.08" ry="2.21" fill="#74b254"/>
<ellipse cx="228.77" cy="69.31" rx="2.08" ry="2.21" fill="#74b254"/>
<ellipse cx="234.54" cy="69.31" rx="2.08" ry="2.21" fill="#ffffff"/>
<ellipse cx="240.31" cy="69.31" rx="2.08" ry="2.21" fill="#74b254"/>
<ellipse cx="246.08" cy="69.31" rx="2.08" ry="2.21" fill="#ffffff"/>
<ellipse cx="251.85" cy="69.31" rx="2.08" ry="2.21" fill="#74b254"/>
<ellipse cx="257.62" cy="69.31" rx="2.08" ry="2.21" fill="#ffffff"/>
<ellipse cx="263.39" cy="69.31" rx="2.08" ry="2.21" fill="#74b254"/>
<ellipse cx="269.16" cy="69.31" rx="2.08" ry="2.21" fill="#74b254"/>
<ellipse cx="274.93" cy="69.31" rx="2.08" ry="2.21" fill="#ffffff"/>
<ellipse cx="280.70" cy="69.31" rx="2.08" ry="2.21" fill="#74b254"/>
<ellipse cx="286.47" cy="69.31" rx="2.08" ry="2.21" fill="#74b254"/>
<line x1="51.50" y1="111.00" x2="51.50" y2="240.25" stroke="#141414" stroke-width="1.5"/>
<line x1="50.75" y1="239.50" x2="235.10" y2="239.50" stroke="#141414" stroke-width="1.5"/>
<line x1="48.30" y1="176.10" x2="51.50" y2="176.10" stroke="#141414" stroke-width="1.0"/>
<line x1="48.30" y1="112.70" x2="51.50" y2="112.70" stroke="#141414" stroke-width="1.0"/>
<line x1="51.50" y1="239.50" x2="51.50" y2="241.90" stroke="#141414" stroke-width="1.0"/>
<line x1="87.68" y1="239.50" x2="87.68" y2="241.90" stroke="#141414" stroke-width="1.0"/>
<line x1="123.86" y1="239.50" x2="123.86" y2="241.90" stroke="#141414" stroke-width="1.0"/>
<line x1="160.04" y1="239.50" x2="160.04" y2="241.90" stroke="#141414" stroke-width="1.0"/>
<line x1="196.22" y1="239.50" x2="196.22" y2="241.90" stroke="#141414" stroke-width="1.0"/>
<line x1="232.40" y1="239.50" x2="232.40" y2="241.90" stroke="#141414" stroke-width="1.0"/>
<path d="M51.50,239.50 L69.59,238.74 L87.68,236.33 L123.86,134.76 L160.04,116.76 L196.22,113.97 L232.40,112.70" fill="none" stroke="#34397c" stroke-width="1.9" stroke-linejoin="round"/>
<rect x="49.90" y="237.90" width="3.2" height="3.2" fill="#34397c"/>
<rect x="67.99" y="237.14" width="3.2" height="3.2" fill="#34397c"/>
<rect x="86.08" y="234.73" width="3.2" height="3.2" fill="#34397c"/>
<rect x="122.26" y="133.16" width="3.2" height="3.2" fill="#34397c"/>
<rect x="158.44" y="115.16" width="3.2" height="3.2" fill="#34397c"/>
<rect x="194.62" y="112.37" width="3.2" height="3.2" fill="#34397c"/>
<rect x="230.80" y="111.10" width="3.2" height="3.2" fill="#34397c"/>
<path d="M51.50,239.50 L69.59,239.12 L87.68,236.96 L123.86,138.69 L160.04,117.39 L196.22,113.97 L232.40,112.70" fill="none" stroke="#283f78" stroke-width="2.0" stroke-linejoin="round"/>
<rect x="49.90" y="237.90" width="3.2" height="3.2" fill="#283f78"/>
<rect x="67.99" y="237.52" width="3.2" height="3.2" fill="#283f78"/>
<rect x="86.08" y="235.36" width="3.2" height="3.2" fill="#283f78"/>
<rect x="122.26" y="137.09" width="3.2" height="3.2" fill="#283f78"/>
<rect x="158.44" y="115.79" width="3.2" height="3.2" fill="#283f78"/>
<rect x="194.62" y="112.37" width="3.2" height="3.2" fill="#283f78"/>
<rect x="230.80" y="111.10" width="3.2" height="3.2" fill="#283f78"/>
<path d="M51.50,239.50 L69.59,236.96 L87.68,228.85 L123.86,121.58 L160.04,115.49 L196.22,113.59 L232.40,112.70" fill="none" stroke="#9a1244" stroke-width="1.7" stroke-linejoin="round"/>
<rect x="49.90" y="237.90" width="3.2" height="3.2" fill="#9a1244"/>
<rect x="67.99" y="235.36" width="3.2" height="3.2" fill="#9a1244"/>
<rect x="86.08" y="227.25" width="3.2" height="3.2" fill="#9a1244"/>
<rect x="122.26" y="119.98" width="3.2" height="3.2" fill="#9a1244"/>
<rect x="158.44" y="113.89" width="3.2" height="3.2" fill="#9a1244"/>
<rect x="194.62" y="111.99" width="3.2" height="3.2" fill="#9a1244"/>
<rect x="230.80" y="111.10" width="3.2" height="3.2" fill="#9a1244"/>
<path d="M196.22,113.97 L232.40,112.70" fill="none" stroke="#283f78" stroke-width="2.0" stroke-linejoin="round"/>
<rect x="194.62" y="112.37" width="3.2" height="3.2" fill="#283f78"/>
<rect x="230.80" y="111.10" width="3.2" height="3.2" fill="#283f78"/>
<path d="M51.50,239.50 L69.59,239.12" fill="none" stroke="#283f78" stroke-width="2.0" stroke-linejoin="round"/>
<rect x="49.90" y="237.90" width="3.2" height="3.2" fill="#283f78"/>
<rect x="67.99" y="237.52" width="3.2" height="3.2" fill="#283f78"/>
<line x1="123.86" y1="129.20" x2="123.86" y2="146.90" stroke="#34397c" stroke-width="1.0"/>
<line x1="122.06" y1="129.20" x2="125.66" y2="129.20" stroke="#34397c" stroke-width="1.0"/>
<line x1="122.06" y1="146.90" x2="125.66" y2="146.90" stroke="#34397c" stroke-width="1.0"/>
<line x1="160.04" y1="112.30" x2="160.04" y2="118.80" stroke="#34397c" stroke-width="1.0"/>
<line x1="158.24" y1="112.30" x2="161.84" y2="112.30" stroke="#34397c" stroke-width="1.0"/>
<line x1="158.24" y1="118.80" x2="161.84" y2="118.80" stroke="#34397c" stroke-width="1.0"/>
<line x1="87.68" y1="219.50" x2="87.68" y2="228.50" stroke="#9a1244" stroke-width="1.0"/>
<line x1="85.88" y1="219.50" x2="89.48" y2="219.50" stroke="#9a1244" stroke-width="1.0"/>
<line x1="85.88" y1="228.50" x2="89.48" y2="228.50" stroke="#9a1244" stroke-width="1.0"/>
<line x1="69.59" y1="234.80" x2="69.59" y2="239.50" stroke="#9a1244" stroke-width="1.0"/>
<line x1="67.79" y1="234.80" x2="71.39" y2="234.80" stroke="#9a1244" stroke-width="1.0"/>
<line x1="67.79" y1="239.50" x2="71.39" y2="239.50" stroke="#9a1244" stroke-width="1.0"/>
<circle cx="120.60" cy="116.20" r="1.05" fill="#7c1a3e"/>
<circle cx="124.20" cy="116.20" r="1.05" fill="#7c1a3e"/>
<circle cx="127.80" cy="116.20" r="1.05" fill="#7c1a3e"/>
<circle cx="86.00" cy="215.00" r="1.05" fill="#7c1a3e"/>
<circle cx="89.40" cy="215.00" r="1.05" fill="#7c1a3e"/>
<path d="M51.5,236.3 L54.7,239.5 L51.5,242.7 L48.3,239.5 Z" fill="#283f78"/>
<text x="8.10" y="101.10" font-size="10.90" fill="#000" stroke="#000" stroke-width="0" font-weight="bold" textLength="6.90" lengthAdjust="spacingAndGlyphs">B</text>
<text x="32.90" y="115.52" font-size="8.20" fill="#474747" stroke="#474747" stroke-width="0" font-weight="normal" textLength="12.40" lengthAdjust="spacingAndGlyphs">100</text>
<text x="36.70" y="178.92" font-size="8.20" fill="#474747" stroke="#474747" stroke-width="0" font-weight="normal" textLength="8.60" lengthAdjust="spacingAndGlyphs">50</text>
<text x="41.00" y="242.32" font-size="8.20" fill="#474747" stroke="#474747" stroke-width="0" font-weight="normal" textLength="4.30" lengthAdjust="spacingAndGlyphs">0</text>
<text x="49.35" y="252.72" font-size="8.20" fill="#474747" stroke="#474747" stroke-width="0" font-weight="normal" textLength="4.30" lengthAdjust="spacingAndGlyphs">0</text>
<text x="83.48" y="252.72" font-size="8.20" fill="#474747" stroke="#474747" stroke-width="0" font-weight="normal" textLength="8.40" lengthAdjust="spacingAndGlyphs">24</text>
<text x="119.66" y="252.72" font-size="8.20" fill="#474747" stroke="#474747" stroke-width="0" font-weight="normal" textLength="8.40" lengthAdjust="spacingAndGlyphs">48</text>
<text x="155.84" y="252.72" font-size="8.20" fill="#474747" stroke="#474747" stroke-width="0" font-weight="normal" textLength="8.40" lengthAdjust="spacingAndGlyphs">72</text>
<text x="192.02" y="252.72" font-size="8.20" fill="#474747" stroke="#474747" stroke-width="0" font-weight="normal" textLength="8.40" lengthAdjust="spacingAndGlyphs">96</text>
<text x="226.10" y="252.72" font-size="8.20" fill="#474747" stroke="#474747" stroke-width="0" font-weight="normal" textLength="12.60" lengthAdjust="spacingAndGlyphs">120</text>
<text x="121.70" y="265.60" font-size="10.20" fill="#2e2e2e" stroke="#2e2e2e" stroke-width="0.1" font-weight="normal" textLength="42.80" lengthAdjust="spacingAndGlyphs">Time (hours)</text>
<text x="183.30" y="127.70" font-size="8.43" fill="#434d70" stroke="#434d70" stroke-width="0" font-weight="normal" textLength="35.00" lengthAdjust="spacingAndGlyphs">WT n=264</text>
<text x="165.10" y="139.00" font-size="8.43" fill="#4d4a70" stroke="#4d4a70" stroke-width="0" font-weight="normal" textLength="53.20" lengthAdjust="spacingAndGlyphs">JAK HET n=309</text>
<text x="161.10" y="150.00" font-size="8.28" fill="#9c2f55" stroke="#9c2f55" stroke-width="0" font-weight="normal" textLength="57.20" lengthAdjust="spacingAndGlyphs">JAK HOM n=262</text>
<text transform="translate(15.20,206.80) rotate(-90)" x="0" y="0" font-size="10.10" fill="#2e2e2e" stroke="#2e2e2e" stroke-width="0.1" textLength="63.90" lengthAdjust="spacingAndGlyphs">Proportion of HSCs</text>
<text transform="translate(27.20,214.00) rotate(-90)" x="0" y="0" font-size="10.10" fill="#2e2e2e" stroke="#2e2e2e" stroke-width="0.1" textLength="75.80" lengthAdjust="spacingAndGlyphs">completed 1<tspan font-size="6.8" baseline-shift="3">st</tspan> division</text>
<line x1="299.80" y1="110.00" x2="299.80" y2="240.55" stroke="#141414" stroke-width="1.5"/>
<line x1="299.05" y1="239.80" x2="485.60" y2="239.80" stroke="#141414" stroke-width="1.5"/>
<line x1="296.60" y1="175.55" x2="299.80" y2="175.55" stroke="#141414" stroke-width="1.0"/>
<line x1="296.60" y1="111.30" x2="299.80" y2="111.30" stroke="#141414" stroke-width="1.0"/>
<line x1="299.80" y1="239.80" x2="299.80" y2="242.20" stroke="#141414" stroke-width="1.0"/>
<line x1="330.33" y1="239.80" x2="330.33" y2="242.20" stroke="#141414" stroke-width="1.0"/>
<line x1="360.86" y1="239.80" x2="360.86" y2="242.20" stroke="#141414" stroke-width="1.0"/>
<line x1="391.39" y1="239.80" x2="391.39" y2="242.20" stroke="#141414" stroke-width="1.0"/>
<line x1="421.92" y1="239.80" x2="421.92" y2="242.20" stroke="#141414" stroke-width="1.0"/>
<line x1="452.45" y1="239.80" x2="452.45" y2="242.20" stroke="#141414" stroke-width="1.0"/>
<line x1="482.98" y1="239.80" x2="482.98" y2="242.20" stroke="#141414" stroke-width="1.0"/>
<path d="M299.80,239.80 L315.06,239.41 L330.33,238.52 L360.86,195.47 L391.39,130.19 L421.92,116.70 L452.45,111.81 L482.98,111.30" fill="none" stroke="#34397c" stroke-width="1.9" stroke-linejoin="round"/>
<rect x="298.20" y="238.20" width="3.2" height="3.2" fill="#34397c"/>
<rect x="313.46" y="237.81" width="3.2" height="3.2" fill="#34397c"/>
<rect x="328.73" y="236.92" width="3.2" height="3.2" fill="#34397c"/>
<rect x="359.26" y="193.87" width="3.2" height="3.2" fill="#34397c"/>
<rect x="389.79" y="128.59" width="3.2" height="3.2" fill="#34397c"/>
<rect x="420.32" y="115.10" width="3.2" height="3.2" fill="#34397c"/>
<rect x="450.85" y="110.21" width="3.2" height="3.2" fill="#34397c"/>
<rect x="481.38" y="109.70" width="3.2" height="3.2" fill="#34397c"/>
<path d="M299.80,239.80 L315.06,239.54 L330.33,239.03 L360.86,198.04 L391.39,134.69 L421.92,117.73 L452.45,112.07 L482.98,111.30" fill="none" stroke="#283f78" stroke-width="2.0" stroke-linejoin="round"/>
<rect x="298.20" y="238.20" width="3.2" height="3.2" fill="#283f78"/>
<rect x="313.46" y="237.94" width="3.2" height="3.2" fill="#283f78"/>
<rect x="328.73" y="237.43" width="3.2" height="3.2" fill="#283f78"/>
<rect x="359.26" y="196.44" width="3.2" height="3.2" fill="#283f78"/>
<rect x="389.79" y="133.09" width="3.2" height="3.2" fill="#283f78"/>
<rect x="420.32" y="116.13" width="3.2" height="3.2" fill="#283f78"/>
<rect x="450.85" y="110.47" width="3.2" height="3.2" fill="#283f78"/>
<rect x="481.38" y="109.70" width="3.2" height="3.2" fill="#283f78"/>
<path d="M299.80,239.80 L315.06,239.41 L330.33,238.26 L360.86,174.65 L391.39,121.19 L421.92,113.87 L452.45,111.81 L482.98,111.30" fill="none" stroke="#9a1244" stroke-width="1.7" stroke-linejoin="round"/>
<rect x="298.20" y="238.20" width="3.2" height="3.2" fill="#9a1244"/>
<rect x="313.46" y="237.81" width="3.2" height="3.2" fill="#9a1244"/>
<rect x="328.73" y="236.66" width="3.2" height="3.2" fill="#9a1244"/>
<rect x="359.26" y="173.05" width="3.2" height="3.2" fill="#9a1244"/>
<rect x="389.79" y="119.59" width="3.2" height="3.2" fill="#9a1244"/>
<rect x="420.32" y="112.27" width="3.2" height="3.2" fill="#9a1244"/>
<rect x="450.85" y="110.21" width="3.2" height="3.2" fill="#9a1244"/>
<rect x="481.38" y="109.70" width="3.2" height="3.2" fill="#9a1244"/>
<path d="M452.45,112.07 L482.98,111.30" fill="none" stroke="#283f78" stroke-width="2.0" stroke-linejoin="round"/>
<rect x="450.85" y="110.47" width="3.2" height="3.2" fill="#283f78"/>
<rect x="481.38" y="109.70" width="3.2" height="3.2" fill="#283f78"/>
<path d="M299.80,239.80 L315.06,239.54 L330.33,239.03" fill="none" stroke="#283f78" stroke-width="2.0" stroke-linejoin="round"/>
<rect x="298.20" y="238.20" width="3.2" height="3.2" fill="#283f78"/>
<rect x="313.46" y="237.94" width="3.2" height="3.2" fill="#283f78"/>
<rect x="328.73" y="237.43" width="3.2" height="3.2" fill="#283f78"/>
<line x1="360.86" y1="186.00" x2="360.86" y2="205.40" stroke="#34397c" stroke-width="1.0"/>
<line x1="359.06" y1="186.00" x2="362.66" y2="186.00" stroke="#34397c" stroke-width="1.0"/>
<line x1="359.06" y1="205.40" x2="362.66" y2="205.40" stroke="#34397c" stroke-width="1.0"/>
<line x1="391.39" y1="126.00" x2="391.39" y2="140.00" stroke="#34397c" stroke-width="1.0"/>
<line x1="389.59" y1="126.00" x2="393.19" y2="126.00" stroke="#34397c" stroke-width="1.0"/>
<line x1="389.59" y1="140.00" x2="393.19" y2="140.00" stroke="#34397c" stroke-width="1.0"/>
<circle cx="353.60" cy="167.90" r="1.05" fill="#7c1a3e"/>
<circle cx="357.00" cy="167.90" r="1.05" fill="#7c1a3e"/>
<circle cx="360.40" cy="167.90" r="1.05" fill="#7c1a3e"/>
<circle cx="388.40" cy="115.90" r="1.05" fill="#7c1a3e"/>
<circle cx="392.00" cy="115.90" r="1.05" fill="#7c1a3e"/>
<circle cx="395.60" cy="115.90" r="1.05" fill="#7c1a3e"/>
<path d="M299.8,236.6 L303.0,239.8 L299.8,243.0 L296.6,239.8 Z" fill="#283f78"/>
<text x="255.00" y="101.70" font-size="11.77" fill="#000" stroke="#000" stroke-width="0" font-weight="bold" textLength="7.50" lengthAdjust="spacingAndGlyphs">C</text>
<text x="281.30" y="114.12" font-size="8.20" fill="#474747" stroke="#474747" stroke-width="0" font-weight="normal" textLength="12.20" lengthAdjust="spacingAndGlyphs">100</text>
<text x="285.00" y="178.37" font-size="8.20" fill="#474747" stroke="#474747" stroke-width="0" font-weight="normal" textLength="8.50" lengthAdjust="spacingAndGlyphs">50</text>
<text x="289.30" y="242.62" font-size="8.20" fill="#474747" stroke="#474747" stroke-width="0" font-weight="normal" textLength="4.20" lengthAdjust="spacingAndGlyphs">0</text>
<text x="297.65" y="252.82" font-size="8.20" fill="#474747" stroke="#474747" stroke-width="0" font-weight="normal" textLength="4.30" lengthAdjust="spacingAndGlyphs">0</text>
<text x="326.13" y="252.82" font-size="8.20" fill="#474747" stroke="#474747" stroke-width="0" font-weight="normal" textLength="8.40" lengthAdjust="spacingAndGlyphs">24</text>
<text x="356.66" y="252.82" font-size="8.20" fill="#474747" stroke="#474747" stroke-width="0" font-weight="normal" textLength="8.40" lengthAdjust="spacingAndGlyphs">48</text>
<text x="387.19" y="252.82" font-size="8.20" fill="#474747" stroke="#474747" stroke-width="0" font-weight="normal" textLength="8.40" lengthAdjust="spacingAndGlyphs">72</text>
<text x="417.72" y="252.82" font-size="8.20" fill="#474747" stroke="#474747" stroke-width="0" font-weight="normal" textLength="8.40" lengthAdjust="spacingAndGlyphs">96</text>
<text x="446.15" y="252.82" font-size="8.20" fill="#474747" stroke="#474747" stroke-width="0" font-weight="normal" textLength="12.60" lengthAdjust="spacingAndGlyphs">120</text>
<text x="476.68" y="252.82" font-size="8.20" fill="#474747" stroke="#474747" stroke-width="0" font-weight="normal" textLength="12.60" lengthAdjust="spacingAndGlyphs">144</text>
<text x="370.80" y="265.60" font-size="10.20" fill="#2e2e2e" stroke="#2e2e2e" stroke-width="0.1" font-weight="normal" textLength="42.00" lengthAdjust="spacingAndGlyphs">Time (hours)</text>
<text x="438.50" y="125.10" font-size="8.28" fill="#434d70" stroke="#434d70" stroke-width="0" font-weight="normal" textLength="34.80" lengthAdjust="spacingAndGlyphs">WT n=264</text>
<text x="420.10" y="136.20" font-size="7.85" fill="#4d4a70" stroke="#4d4a70" stroke-width="0" font-weight="normal" textLength="53.20" lengthAdjust="spacingAndGlyphs">JAK HET n=309</text>
<text x="416.00" y="147.30" font-size="7.85" fill="#9c2f55" stroke="#9c2f55" stroke-width="0" font-weight="normal" textLength="57.30" lengthAdjust="spacingAndGlyphs">JAK HOM n=262</text>
<text transform="translate(263.90,205.60) rotate(-90)" x="0" y="0" font-size="10.10" fill="#2e2e2e" stroke="#2e2e2e" stroke-width="0.1" textLength="63.60" lengthAdjust="spacingAndGlyphs">Proportion of HSCs</text>
<text transform="translate(275.80,213.80) rotate(-90)" x="0" y="0" font-size="10.10" fill="#2e2e2e" stroke="#2e2e2e" stroke-width="0.1" textLength="77.70" lengthAdjust="spacingAndGlyphs">completed 2<tspan font-size="6.8" baseline-shift="3">nd</tspan> division</text>
<line x1="51.50" y1="300.80" x2="51.50" y2="427.75" stroke="#141414" stroke-width="1.5"/>
<line x1="50.75" y1="427.00" x2="236.50" y2="427.00" stroke="#141414" stroke-width="1.5"/>
<line x1="48.30" y1="303.80" x2="51.50" y2="303.80" stroke="#141414" stroke-width="1.0"/>
<line x1="48.30" y1="328.50" x2="51.50" y2="328.50" stroke="#141414" stroke-width="1.0"/>
<line x1="48.30" y1="353.20" x2="51.50" y2="353.20" stroke="#141414" stroke-width="1.0"/>
<line x1="48.30" y1="377.90" x2="51.50" y2="377.90" stroke="#141414" stroke-width="1.0"/>
<line x1="48.30" y1="402.60" x2="51.50" y2="402.60" stroke="#141414" stroke-width="1.0"/>
<rect x="74.70" y="352.30" width="46.20" height="74.70" fill="#2e4c7d"/>
<line x1="97.80" y1="348.20" x2="97.80" y2="352.30" stroke="#333" stroke-width="1.2"/>
<line x1="86.20" y1="348.20" x2="109.20" y2="348.20" stroke="#333" stroke-width="1.3"/>
<line x1="97.80" y1="427.00" x2="97.80" y2="429.60" stroke="#141414" stroke-width="1.0"/>
<rect x="167.20" y="328.20" width="45.60" height="98.80" fill="#a5002b"/>
<line x1="190.00" y1="325.70" x2="190.00" y2="328.20" stroke="#333" stroke-width="1.2"/>
<line x1="178.50" y1="325.70" x2="201.50" y2="325.70" stroke="#333" stroke-width="1.3"/>
<line x1="190.00" y1="427.00" x2="190.00" y2="429.60" stroke="#141414" stroke-width="1.0"/>
<path d="M96.90,321.50 L96.90,316.30 Q96.90,314.80 98.40,314.80 L188.00,314.80 Q189.50,314.80 189.50,316.30 L189.50,321.50" fill="none" stroke="#151515" stroke-width="1.1"/>
<circle cx="139.50" cy="311.50" r="1.05" fill="#262626"/>
<circle cx="143.10" cy="311.50" r="1.05" fill="#262626"/>
<circle cx="146.70" cy="311.50" r="1.05" fill="#262626"/>
<text x="6.60" y="293.60" font-size="10.17" fill="#000" stroke="#000" stroke-width="0" font-weight="bold" textLength="9.00" lengthAdjust="spacingAndGlyphs">D</text>
<text x="32.30" y="307.02" font-size="8.20" fill="#474747" stroke="#474747" stroke-width="0" font-weight="normal" textLength="13.10" lengthAdjust="spacingAndGlyphs">100</text>
<text x="36.20" y="331.32" font-size="8.20" fill="#474747" stroke="#474747" stroke-width="0" font-weight="normal" textLength="9.20" lengthAdjust="spacingAndGlyphs">80</text>
<text x="36.20" y="356.02" font-size="8.20" fill="#474747" stroke="#474747" stroke-width="0" font-weight="normal" textLength="9.20" lengthAdjust="spacingAndGlyphs">60</text>
<text x="36.20" y="380.72" font-size="8.20" fill="#474747" stroke="#474747" stroke-width="0" font-weight="normal" textLength="9.20" lengthAdjust="spacingAndGlyphs">40</text>
<text x="36.20" y="405.42" font-size="8.20" fill="#474747" stroke="#474747" stroke-width="0" font-weight="normal" textLength="9.20" lengthAdjust="spacingAndGlyphs">20</text>
<text x="41.00" y="429.82" font-size="8.20" fill="#474747" stroke="#474747" stroke-width="0" font-weight="normal" textLength="4.40" lengthAdjust="spacingAndGlyphs">0</text>
<text x="91.00" y="440.16" font-size="8.30" fill="#434d70" stroke="#434d70" stroke-width="0" font-weight="normal" textLength="13.00" lengthAdjust="spacingAndGlyphs">WT</text>
<text x="86.00" y="449.66" font-size="8.30" fill="#444" stroke="#444" stroke-width="0" font-weight="normal" textLength="23.00" lengthAdjust="spacingAndGlyphs">n=100</text>
<text x="171.50" y="440.16" font-size="8.30" fill="#9c2f55" stroke="#9c2f55" stroke-width="0" font-weight="normal" textLength="36.80" lengthAdjust="spacingAndGlyphs">JAK HOM</text>
<text x="178.50" y="449.66" font-size="8.30" fill="#444" stroke="#444" stroke-width="0" font-weight="normal" textLength="23.00" lengthAdjust="spacingAndGlyphs">n=154</text>
<text transform="translate(15.40,402.80) rotate(-90)" x="0" y="0" font-size="10.00" fill="#2e2e2e" stroke="#2e2e2e" stroke-width="0.1" textLength="79.00" lengthAdjust="spacingAndGlyphs">Frequency of Lin<tspan font-size="6.8" baseline-shift="3">+</tspan> cells</text>
<text transform="translate(27.40,381.80) rotate(-90)" x="0" y="0" font-size="10.00" fill="#2e2e2e" stroke="#2e2e2e" stroke-width="0.1" textLength="34.60" lengthAdjust="spacingAndGlyphs">(per clone)</text>
<line x1="300.00" y1="300.80" x2="300.00" y2="427.25" stroke="#141414" stroke-width="1.5"/>
<line x1="299.25" y1="426.50" x2="484.40" y2="426.50" stroke="#141414" stroke-width="1.5"/>
<line x1="296.80" y1="303.80" x2="300.00" y2="303.80" stroke="#141414" stroke-width="1.0"/>
<line x1="296.80" y1="344.70" x2="300.00" y2="344.70" stroke="#141414" stroke-width="1.0"/>
<line x1="296.80" y1="385.60" x2="300.00" y2="385.60" stroke="#141414" stroke-width="1.0"/>
<rect x="323.10" y="330.00" width="45.70" height="96.50" fill="#2e4c7d"/>
<line x1="345.95" y1="318.30" x2="345.95" y2="330.00" stroke="#333" stroke-width="1.2"/>
<line x1="334.60" y1="318.30" x2="357.30" y2="318.30" stroke="#333" stroke-width="1.3"/>
<line x1="345.95" y1="426.50" x2="345.95" y2="429.10" stroke="#141414" stroke-width="1.0"/>
<rect x="415.10" y="403.20" width="45.70" height="23.30" fill="#a5002b"/>
<line x1="437.95" y1="398.10" x2="437.95" y2="403.20" stroke="#333" stroke-width="1.2"/>
<line x1="426.90" y1="398.10" x2="449.70" y2="398.10" stroke="#333" stroke-width="1.3"/>
<line x1="437.95" y1="426.50" x2="437.95" y2="429.10" stroke="#141414" stroke-width="1.0"/>
<path d="M344.80,312.50 L344.80,306.70 Q344.80,305.20 346.30,305.20 L436.20,305.20 Q437.70,305.20 437.70,306.70 L437.70,312.50" fill="none" stroke="#151515" stroke-width="1.1"/>
<circle cx="387.50" cy="302.10" r="1.05" fill="#262626"/>
<circle cx="391.40" cy="302.10" r="1.05" fill="#262626"/>
<circle cx="395.30" cy="302.10" r="1.05" fill="#262626"/>
<text x="255.20" y="293.30" font-size="11.48" fill="#000" stroke="#000" stroke-width="0" font-weight="bold" textLength="6.40" lengthAdjust="spacingAndGlyphs">E</text>
<text x="284.60" y="306.62" font-size="8.20" fill="#474747" stroke="#474747" stroke-width="0" font-weight="normal" textLength="9.30" lengthAdjust="spacingAndGlyphs">30</text>
<text x="284.60" y="347.72" font-size="8.20" fill="#474747" stroke="#474747" stroke-width="0" font-weight="normal" textLength="9.30" lengthAdjust="spacingAndGlyphs">20</text>
<text x="284.60" y="388.82" font-size="8.20" fill="#474747" stroke="#474747" stroke-width="0" font-weight="normal" textLength="9.30" lengthAdjust="spacingAndGlyphs">10</text>
<text x="289.30" y="429.52" font-size="8.20" fill="#474747" stroke="#474747" stroke-width="0" font-weight="normal" textLength="4.60" lengthAdjust="spacingAndGlyphs">0</text>
<text x="339.30" y="440.26" font-size="8.30" fill="#434d70" stroke="#434d70" stroke-width="0" font-weight="normal" textLength="13.00" lengthAdjust="spacingAndGlyphs">WT</text>
<text x="334.30" y="450.26" font-size="8.30" fill="#444" stroke="#444" stroke-width="0" font-weight="normal" textLength="23.10" lengthAdjust="spacingAndGlyphs">n=100</text>
<text x="419.70" y="440.46" font-size="8.30" fill="#9c2f55" stroke="#9c2f55" stroke-width="0" font-weight="normal" textLength="36.50" lengthAdjust="spacingAndGlyphs">JAK HOM</text>
<text x="426.20" y="449.86" font-size="8.30" fill="#444" stroke="#444" stroke-width="0" font-weight="normal" textLength="23.00" lengthAdjust="spacingAndGlyphs">n=154</text>
<text transform="translate(268.20,400.80) rotate(-90)" x="0" y="0" font-size="10.00" fill="#2e2e2e" stroke="#2e2e2e" stroke-width="0.1" textLength="74.20" lengthAdjust="spacingAndGlyphs">Frequency of KSL cells</text>
<text transform="translate(280.50,382.40) rotate(-90)" x="0" y="0" font-size="10.00" fill="#2e2e2e" stroke="#2e2e2e" stroke-width="0.1" textLength="34.40" lengthAdjust="spacingAndGlyphs">(per clone)</text>
<text x="9.00" y="476.80" font-size="12.21" fill="#000" stroke="#000" stroke-width="0" font-weight="bold" textLength="6.40" lengthAdjust="spacingAndGlyphs">F</text>
<path d="M72.75,550.20 L72.75,500.80 A49.40,49.40 0 0 1 122.15,550.20 Z" fill="#2e4c7d"/>
<path d="M72.75,550.20 L122.15,550.20 A49.40,49.40 0 0 1 31.04,576.67 Z" fill="#6aaa42"/>
<path d="M72.75,550.20 L31.04,576.67 A49.40,49.40 0 0 1 72.75,500.80 Z" fill="#a5002b"/>
<circle cx="72.75" cy="550.20" r="49.40" fill="none" stroke="#3a2030" stroke-opacity="0.35" stroke-width="0.6"/>
<path d="M187.75,550.65 L187.75,501.15 A49.50,49.50 0 0 1 223.83,516.76 Z" fill="#2e4c7d"/>
<path d="M187.75,550.65 L223.83,516.76 A49.50,49.50 0 0 1 211.60,594.03 Z" fill="#6aaa42"/>
<path d="M187.75,550.65 L211.60,594.03 A49.50,49.50 0 1 1 187.75,501.15 Z" fill="#a5002b"/>
<circle cx="187.75" cy="550.65" r="49.50" fill="none" stroke="#3a2030" stroke-opacity="0.35" stroke-width="0.6"/>
<text x="64.50" y="495.75" font-size="10.17" fill="#434d70" stroke="#434d70" stroke-width="0" font-weight="normal" textLength="15.00" lengthAdjust="spacingAndGlyphs">WT</text>
<text x="164.60" y="495.44" font-size="10.00" fill="#9c2f55" stroke="#9c2f55" stroke-width="0" font-weight="normal" textLength="45.10" lengthAdjust="spacingAndGlyphs">JAK HOM</text>
<text x="84.60" y="532.16" font-size="8.60" fill="#f3eef0" stroke="#f3eef0" stroke-width="0" font-weight="normal" textLength="15.60" lengthAdjust="spacingAndGlyphs">25%</text>
<text x="37.20" y="540.66" font-size="8.60" fill="#f3eef0" stroke="#f3eef0" stroke-width="0" font-weight="normal" textLength="15.60" lengthAdjust="spacingAndGlyphs">34%</text>
<text x="73.00" y="580.66" font-size="8.60" fill="#f3eef0" stroke="#f3eef0" stroke-width="0" font-weight="normal" textLength="15.60" lengthAdjust="spacingAndGlyphs">41%</text>
<text x="192.60" y="521.76" font-size="8.60" fill="#f3eef0" stroke="#f3eef0" stroke-width="0" font-weight="normal" textLength="15.60" lengthAdjust="spacingAndGlyphs">13%</text>
<text x="208.10" y="559.16" font-size="8.60" fill="#f3eef0" stroke="#f3eef0" stroke-width="0" font-weight="normal" textLength="15.60" lengthAdjust="spacingAndGlyphs">29%</text>
<text x="155.20" y="562.16" font-size="8.60" fill="#f3eef0" stroke="#f3eef0" stroke-width="0" font-weight="normal" textLength="15.60" lengthAdjust="spacingAndGlyphs">58%</text>
<circle cx="161.60" cy="547.7" r="0.9" fill="#f3eef0"/>
<circle cx="164.40" cy="547.7" r="0.9" fill="#f3eef0"/>
<rect x="83.75" y="616.25" width="8.75" height="7.50" fill="#a5002b"/>
<text x="95.75" y="622.90" font-size="8.00" fill="#333" stroke="#333" stroke-width="0" font-weight="normal" textLength="78.75" lengthAdjust="spacingAndGlyphs">Early CAFC (1-2 weeks)</text>
<rect x="83.75" y="630.65" width="8.75" height="7.50" fill="#6aaa42"/>
<text x="95.75" y="637.30" font-size="8.00" fill="#333" stroke="#333" stroke-width="0" font-weight="normal" textLength="76.25" lengthAdjust="spacingAndGlyphs">Mid CAFC (3-5 weeks)</text>
<rect x="83.75" y="645.05" width="8.75" height="7.50" fill="#2e4c7d"/>
<text x="95.75" y="651.70" font-size="8.00" fill="#333" stroke="#333" stroke-width="0" font-weight="normal" textLength="76.25" lengthAdjust="spacingAndGlyphs">Late CAFC (&gt;5 weeks)</text>
<text x="255.00" y="477.10" font-size="11.34" fill="#000" stroke="#000" stroke-width="0" font-weight="bold" textLength="8.30" lengthAdjust="spacingAndGlyphs">G</text>
<line x1="299.60" y1="483.20" x2="299.60" y2="624.95" stroke="#141414" stroke-width="1.5"/>
<line x1="298.85" y1="624.20" x2="511.70" y2="624.20" stroke="#141414" stroke-width="1.5"/>
<line x1="296.40" y1="510.30" x2="299.60" y2="510.30" stroke="#141414" stroke-width="1.0"/>
<line x1="296.40" y1="554.40" x2="299.60" y2="554.40" stroke="#141414" stroke-width="1.0"/>
<line x1="296.40" y1="598.50" x2="299.60" y2="598.50" stroke="#141414" stroke-width="1.0"/>
<line x1="336.90" y1="624.20" x2="336.90" y2="626.60" stroke="#141414" stroke-width="1.0"/>
<line x1="379.60" y1="624.20" x2="379.60" y2="626.60" stroke="#141414" stroke-width="1.0"/>
<line x1="422.30" y1="624.20" x2="422.30" y2="626.60" stroke="#141414" stroke-width="1.0"/>
<line x1="465.00" y1="624.20" x2="465.00" y2="626.60" stroke="#141414" stroke-width="1.0"/>
<line x1="507.70" y1="624.20" x2="507.70" y2="626.60" stroke="#141414" stroke-width="1.0"/>
<text x="285.30" y="513.12" font-size="8.20" fill="#474747" stroke="#474747" stroke-width="0" font-weight="normal" textLength="8.70" lengthAdjust="spacingAndGlyphs">10</text>
<text x="289.60" y="557.22" font-size="8.20" fill="#474747" stroke="#474747" stroke-width="0" font-weight="normal" textLength="4.40" lengthAdjust="spacingAndGlyphs">0</text>
<text x="283.20" y="601.32" font-size="8.20" fill="#474747" stroke="#474747" stroke-width="0" font-weight="normal" textLength="10.80" lengthAdjust="spacingAndGlyphs">-10</text>
<text x="330.90" y="638.02" font-size="8.20" fill="#474747" stroke="#474747" stroke-width="0" font-weight="normal" textLength="12.00" lengthAdjust="spacingAndGlyphs">-10</text>
<text x="377.45" y="638.02" font-size="8.20" fill="#474747" stroke="#474747" stroke-width="0" font-weight="normal" textLength="4.30" lengthAdjust="spacingAndGlyphs">0</text>
<text x="418.10" y="638.02" font-size="8.20" fill="#474747" stroke="#474747" stroke-width="0" font-weight="normal" textLength="8.40" lengthAdjust="spacingAndGlyphs">10</text>
<text x="460.80" y="638.02" font-size="8.20" fill="#474747" stroke="#474747" stroke-width="0" font-weight="normal" textLength="8.40" lengthAdjust="spacingAndGlyphs">20</text>
<text x="503.50" y="638.02" font-size="8.20" fill="#474747" stroke="#474747" stroke-width="0" font-weight="normal" textLength="8.40" lengthAdjust="spacingAndGlyphs">30</text>
<text x="398.75" y="651.20" font-size="10.17" fill="#2e2e2e" stroke="#2e2e2e" stroke-width="0.1" font-weight="normal" textLength="13.75" lengthAdjust="spacingAndGlyphs">PC1</text>
<text transform="translate(277.00,560.00) rotate(-90)" x="0" y="0" font-size="11.00" fill="#2e2e2e" stroke="#2e2e2e" stroke-width="0.1" textLength="12.60" lengthAdjust="spacingAndGlyphs">PC2</text>
<path d="M372.3,663.3 L375.0,666 L372.3,668.7 L369.6,666 Z" fill="#283f78"/>
<text x="378.00" y="668.89" font-size="8.40" fill="#333" stroke="#333" stroke-width="0" font-weight="normal" textLength="11.60" lengthAdjust="spacingAndGlyphs">WT</text>
<circle cx="401.25" cy="666.2" r="2.7" fill="#a5002b"/>
<text x="407.00" y="668.89" font-size="8.40" fill="#333" stroke="#333" stroke-width="0" font-weight="normal" textLength="34.25" lengthAdjust="spacingAndGlyphs">JAK HOM</text>
<circle cx="409.80" cy="495.00" r="0.98" fill="#8e1a42"/>
<circle cx="419.00" cy="498.50" r="0.98" fill="#8e1a42"/>
<circle cx="459.60" cy="500.20" r="0.98" fill="#8e1a42"/>
<path d="M404.80,501.25 L406.05,502.50 L404.80,503.75 L403.55,502.50 Z" fill="#28405e"/>
<circle cx="409.80" cy="504.80" r="0.98" fill="#8e1a42"/>
<circle cx="411.00" cy="507.00" r="0.98" fill="#8e1a42"/>
<circle cx="409.80" cy="509.80" r="0.98" fill="#8e1a42"/>
<path d="M404.80,505.75 L406.05,507.00 L404.80,508.25 L403.55,507.00 Z" fill="#28405e"/>
<path d="M427.10,507.05 L428.35,508.30 L427.10,509.55 L425.85,508.30 Z" fill="#28405e"/>
<path d="M427.50,496.25 L428.75,497.50 L427.50,498.75 L426.25,497.50 Z" fill="#28405e"/>
<circle cx="434.00" cy="512.00" r="0.98" fill="#8e1a42"/>
<path d="M417.30,511.95 L418.55,513.20 L417.30,514.45 L416.05,513.20 Z" fill="#28405e"/>
<circle cx="423.00" cy="513.40" r="0.98" fill="#8e1a42"/>
<circle cx="424.20" cy="515.20" r="0.98" fill="#8e1a42"/>
<circle cx="427.10" cy="515.20" r="0.98" fill="#8e1a42"/>
<circle cx="422.80" cy="517.80" r="0.98" fill="#8e1a42"/>
<path d="M417.90,518.15 L419.15,519.40 L417.90,520.65 L416.65,519.40 Z" fill="#28405e"/>
<path d="M400.00,513.35 L401.25,514.60 L400.00,515.85 L398.75,514.60 Z" fill="#28405e"/>
<circle cx="404.00" cy="516.90" r="0.98" fill="#8e1a42"/>
<circle cx="402.00" cy="521.00" r="0.98" fill="#8e1a42"/>
<circle cx="453.60" cy="515.20" r="0.98" fill="#8e1a42"/>
<path d="M451.90,517.75 L453.15,519.00 L451.90,520.25 L450.65,519.00 Z" fill="#28405e"/>
<path d="M439.20,520.25 L440.45,521.50 L439.20,522.75 L437.95,521.50 Z" fill="#28405e"/>
<path d="M441.30,522.35 L442.55,523.60 L441.30,524.85 L440.05,523.60 Z" fill="#28405e"/>
<path d="M445.20,525.45 L446.45,526.70 L445.20,527.95 L443.95,526.70 Z" fill="#28405e"/>
<circle cx="451.70" cy="525.90" r="0.98" fill="#8e1a42"/>
<path d="M400.00,532.95 L401.25,534.20 L400.00,535.45 L398.75,534.20 Z" fill="#28405e"/>
<circle cx="409.80" cy="536.50" r="0.98" fill="#8e1a42"/>
<circle cx="449.00" cy="534.20" r="0.98" fill="#8e1a42"/>
<circle cx="456.00" cy="536.70" r="0.98" fill="#8e1a42"/>
<path d="M445.00,537.35 L446.25,538.60 L445.00,539.85 L443.75,538.60 Z" fill="#28405e"/>
<circle cx="447.00" cy="541.70" r="0.98" fill="#8e1a42"/>
<path d="M449.80,539.35 L451.05,540.60 L449.80,541.85 L448.55,540.60 Z" fill="#28405e"/>
<circle cx="459.40" cy="540.00" r="0.98" fill="#8e1a42"/>
<path d="M401.20,545.45 L402.45,546.70 L401.20,547.95 L399.95,546.70 Z" fill="#28405e"/>
<path d="M407.50,543.35 L408.75,544.60 L407.50,545.85 L406.25,544.60 Z" fill="#28405e"/>
<path d="M409.00,545.65 L410.25,546.90 L409.00,548.15 L407.75,546.90 Z" fill="#28405e"/>
<circle cx="415.00" cy="545.20" r="0.98" fill="#8e1a42"/>
<circle cx="438.60" cy="547.10" r="0.98" fill="#8e1a42"/>
<path d="M449.60,546.55 L450.85,547.80 L449.60,549.05 L448.35,547.80 Z" fill="#28405e"/>
<circle cx="457.70" cy="548.00" r="0.98" fill="#8e1a42"/>
<circle cx="458.70" cy="549.20" r="0.98" fill="#8e1a42"/>
<circle cx="457.20" cy="549.80" r="0.98" fill="#8e1a42"/>
<path d="M410.40,550.75 L411.65,552.00 L410.40,553.25 L409.15,552.00 Z" fill="#28405e"/>
<circle cx="414.80" cy="552.40" r="0.98" fill="#8e1a42"/>
<circle cx="424.80" cy="553.20" r="0.98" fill="#8e1a42"/>
<path d="M446.10,551.65 L447.35,552.90 L446.10,554.15 L444.85,552.90 Z" fill="#28405e"/>
<path d="M451.30,551.45 L452.55,552.70 L451.30,553.95 L450.05,552.70 Z" fill="#28405e"/>
<circle cx="431.00" cy="555.00" r="0.98" fill="#8e1a42"/>
<circle cx="486.10" cy="499.60" r="0.98" fill="#8e1a42"/>
<circle cx="469.40" cy="509.10" r="0.98" fill="#8e1a42"/>
<circle cx="476.70" cy="513.40" r="0.98" fill="#8e1a42"/>
<circle cx="486.10" cy="513.40" r="0.98" fill="#8e1a42"/>
<circle cx="461.30" cy="519.00" r="0.98" fill="#8e1a42"/>
<circle cx="481.80" cy="520.40" r="0.98" fill="#8e1a42"/>
<circle cx="486.70" cy="522.10" r="0.98" fill="#8e1a42"/>
<circle cx="468.80" cy="525.80" r="0.98" fill="#8e1a42"/>
<circle cx="483.30" cy="535.10" r="0.98" fill="#8e1a42"/>
<circle cx="490.80" cy="536.50" r="0.98" fill="#8e1a42"/>
<circle cx="498.80" cy="536.70" r="0.98" fill="#8e1a42"/>
<path d="M460.80,543.35 L462.05,544.60 L460.80,545.85 L459.55,544.60 Z" fill="#28405e"/>
<circle cx="476.70" cy="544.60" r="0.98" fill="#8e1a42"/>
<circle cx="474.40" cy="548.60" r="0.98" fill="#8e1a42"/>
<circle cx="487.90" cy="552.10" r="0.98" fill="#8e1a42"/>
<circle cx="489.00" cy="553.80" r="0.98" fill="#8e1a42"/>
<circle cx="498.80" cy="553.80" r="0.98" fill="#8e1a42"/>
<circle cx="431.40" cy="555.20" r="0.98" fill="#8e1a42"/>
<circle cx="454.40" cy="554.80" r="0.98" fill="#8e1a42"/>
<circle cx="458.80" cy="557.50" r="0.98" fill="#8e1a42"/>
<circle cx="404.40" cy="556.70" r="0.98" fill="#8e1a42"/>
<path d="M403.50,560.25 L404.75,561.50 L403.50,562.75 L402.25,561.50 Z" fill="#28405e"/>
<circle cx="405.20" cy="564.40" r="0.98" fill="#8e1a42"/>
<circle cx="405.80" cy="563.60" r="0.98" fill="#8e1a42"/>
<circle cx="408.70" cy="562.70" r="0.98" fill="#8e1a42"/>
<path d="M415.60,562.55 L416.85,563.80 L415.60,565.05 L414.35,563.80 Z" fill="#28405e"/>
<circle cx="421.70" cy="561.50" r="0.98" fill="#8e1a42"/>
<circle cx="424.00" cy="566.10" r="0.98" fill="#8e1a42"/>
<circle cx="427.70" cy="566.70" r="0.98" fill="#8e1a42"/>
<circle cx="428.60" cy="568.50" r="0.98" fill="#8e1a42"/>
<circle cx="428.80" cy="570.20" r="0.98" fill="#8e1a42"/>
<path d="M414.40,567.25 L415.65,568.50 L414.40,569.75 L413.15,568.50 Z" fill="#28405e"/>
<path d="M417.90,567.75 L419.15,569.00 L417.90,570.25 L416.65,569.00 Z" fill="#28405e"/>
<path d="M410.60,568.55 L411.85,569.80 L410.60,571.05 L409.35,569.80 Z" fill="#28405e"/>
<circle cx="412.10" cy="573.10" r="0.98" fill="#8e1a42"/>
<circle cx="415.60" cy="573.60" r="0.98" fill="#8e1a42"/>
<path d="M441.00,567.75 L442.25,569.00 L441.00,570.25 L439.75,569.00 Z" fill="#28405e"/>
<circle cx="455.40" cy="564.40" r="0.98" fill="#8e1a42"/>
<path d="M400.60,575.85 L401.85,577.10 L400.60,578.35 L399.35,577.10 Z" fill="#28405e"/>
<path d="M423.60,575.55 L424.85,576.80 L423.60,578.05 L422.35,576.80 Z" fill="#28405e"/>
<path d="M423.10,579.65 L424.35,580.90 L423.10,582.15 L421.85,580.90 Z" fill="#28405e"/>
<path d="M437.10,576.45 L438.35,577.70 L437.10,578.95 L435.85,577.70 Z" fill="#28405e"/>
<path d="M404.60,582.75 L405.85,584.00 L404.60,585.25 L403.35,584.00 Z" fill="#28405e"/>
<circle cx="430.60" cy="584.40" r="0.98" fill="#8e1a42"/>
<circle cx="419.00" cy="586.70" r="0.98" fill="#8e1a42"/>
<circle cx="443.30" cy="585.20" r="0.98" fill="#8e1a42"/>
<path d="M442.10,587.75 L443.35,589.00 L442.10,590.25 L440.85,589.00 Z" fill="#28405e"/>
<circle cx="433.20" cy="589.80" r="0.98" fill="#8e1a42"/>
<path d="M427.70,589.15 L428.95,590.40 L427.70,591.65 L426.45,590.40 Z" fill="#28405e"/>
<path d="M404.00,593.75 L405.25,595.00 L404.00,596.25 L402.75,595.00 Z" fill="#28405e"/>
<path d="M407.80,595.85 L409.05,597.10 L407.80,598.35 L406.55,597.10 Z" fill="#28405e"/>
<path d="M417.10,595.45 L418.35,596.70 L417.10,597.95 L415.85,596.70 Z" fill="#28405e"/>
<path d="M422.10,596.05 L423.35,597.30 L422.10,598.55 L420.85,597.30 Z" fill="#28405e"/>
<path d="M425.10,594.35 L426.35,595.60 L425.10,596.85 L423.85,595.60 Z" fill="#28405e"/>
<path d="M414.80,598.15 L416.05,599.40 L414.80,600.65 L413.55,599.40 Z" fill="#28405e"/>
<path d="M406.00,600.45 L407.25,601.70 L406.00,602.95 L404.75,601.70 Z" fill="#28405e"/>
<path d="M409.80,600.05 L411.05,601.30 L409.80,602.55 L408.55,601.30 Z" fill="#28405e"/>
<circle cx="456.30" cy="594.80" r="0.98" fill="#8e1a42"/>
<path d="M451.30,600.45 L452.55,601.70 L451.30,602.95 L450.05,601.70 Z" fill="#28405e"/>
<path d="M414.10,604.65 L415.35,605.90 L414.10,607.15 L412.85,605.90 Z" fill="#28405e"/>
<path d="M411.00,606.45 L412.25,607.70 L411.00,608.95 L409.75,607.70 Z" fill="#28405e"/>
<path d="M410.20,609.65 L411.45,610.90 L410.20,612.15 L408.95,610.90 Z" fill="#28405e"/>
<path d="M424.00,606.45 L425.25,607.70 L424.00,608.95 L422.75,607.70 Z" fill="#28405e"/>
<path d="M440.40,604.35 L441.65,605.60 L440.40,606.85 L439.15,605.60 Z" fill="#28405e"/>
<path d="M445.90,604.15 L447.15,605.40 L445.90,606.65 L444.65,605.40 Z" fill="#28405e"/>
<path d="M453.30,605.45 L454.55,606.70 L453.30,607.95 L452.05,606.70 Z" fill="#28405e"/>
<circle cx="458.20" cy="608.20" r="0.98" fill="#8e1a42"/>
<path d="M442.90,615.05 L444.15,616.30 L442.90,617.55 L441.65,616.30 Z" fill="#28405e"/>
<circle cx="470.00" cy="561.80" r="0.98" fill="#8e1a42"/>
<circle cx="475.80" cy="559.80" r="0.98" fill="#8e1a42"/>
<circle cx="478.60" cy="557.50" r="0.98" fill="#8e1a42"/>
<circle cx="481.00" cy="556.90" r="0.98" fill="#8e1a42"/>
<circle cx="480.40" cy="560.40" r="0.98" fill="#8e1a42"/>
<circle cx="481.00" cy="561.50" r="0.98" fill="#8e1a42"/>
<circle cx="461.00" cy="567.10" r="0.98" fill="#8e1a42"/>
<circle cx="476.30" cy="568.20" r="0.98" fill="#8e1a42"/>
<circle cx="493.10" cy="562.90" r="0.98" fill="#8e1a42"/>
<circle cx="491.00" cy="571.30" r="0.98" fill="#8e1a42"/>
<circle cx="493.60" cy="573.10" r="0.98" fill="#8e1a42"/>
<circle cx="490.80" cy="580.00" r="0.98" fill="#8e1a42"/>
<circle cx="491.00" cy="581.40" r="0.98" fill="#8e1a42"/>
<circle cx="461.30" cy="585.20" r="0.98" fill="#8e1a42"/>
<circle cx="481.80" cy="586.70" r="0.98" fill="#8e1a42"/>
<circle cx="466.00" cy="591.80" r="0.98" fill="#8e1a42"/>
<circle cx="478.10" cy="591.80" r="0.98" fill="#8e1a42"/>
<circle cx="481.00" cy="591.00" r="0.98" fill="#8e1a42"/>
<circle cx="480.40" cy="593.80" r="0.98" fill="#8e1a42"/>
<circle cx="478.60" cy="603.60" r="0.98" fill="#8e1a42"/>
<circle cx="480.60" cy="605.10" r="0.98" fill="#8e1a42"/>
<circle cx="465.20" cy="609.40" r="0.98" fill="#8e1a42"/>
<circle cx="470.60" cy="607.40" r="0.98" fill="#8e1a42"/>
<circle cx="480.10" cy="611.10" r="0.98" fill="#8e1a42"/>
<path d="M308.70,559.55 L309.95,560.80 L308.70,562.05 L307.45,560.80 Z" fill="#28405e"/>
<path d="M313.50,572.95 L314.75,574.20 L313.50,575.45 L312.25,574.20 Z" fill="#28405e"/>
<path d="M321.20,573.95 L322.45,575.20 L321.20,576.45 L319.95,575.20 Z" fill="#28405e"/>
<path d="M322.10,609.55 L323.35,610.80 L322.10,612.05 L320.85,610.80 Z" fill="#28405e"/>
<circle cx="324.00" cy="604.00" r="0.98" fill="#8e1a42"/>
<path d="M321.20,520.05 L322.45,521.30 L321.20,522.55 L319.95,521.30 Z" fill="#28405e"/>
<path d="M320.80,529.75 L322.05,531.00 L320.80,532.25 L319.55,531.00 Z" fill="#28405e"/>
<circle cx="327.90" cy="515.60" r="0.98" fill="#8e1a42"/>
<circle cx="329.50" cy="517.50" r="0.98" fill="#8e1a42"/>
<circle cx="386.18" cy="560.97" r="0.98" fill="#8e1a42"/>
<path d="M359.25,512.83 L360.50,514.08 L359.25,515.33 L358.00,514.08 Z" fill="#28405e"/>
<circle cx="355.07" cy="559.56" r="0.98" fill="#8e1a42"/>
<path d="M359.36,590.96 L360.61,592.21 L359.36,593.46 L358.11,592.21 Z" fill="#28405e"/>
<circle cx="348.38" cy="547.77" r="0.98" fill="#8e1a42"/>
<circle cx="339.68" cy="557.05" r="0.98" fill="#8e1a42"/>
<circle cx="389.61" cy="521.24" r="0.98" fill="#8e1a42"/>
<path d="M333.11,561.04 L334.36,562.29 L333.11,563.54 L331.86,562.29 Z" fill="#28405e"/>
<path d="M348.18,549.61 L349.43,550.86 L348.18,552.11 L346.93,550.86 Z" fill="#28405e"/>
<circle cx="382.67" cy="562.42" r="0.98" fill="#8e1a42"/>
<circle cx="340.51" cy="527.13" r="0.98" fill="#8e1a42"/>
<circle cx="389.11" cy="508.92" r="0.98" fill="#8e1a42"/>
<circle cx="364.16" cy="556.57" r="0.98" fill="#8e1a42"/>
<circle cx="378.26" cy="500.13" r="0.98" fill="#8e1a42"/>
<circle cx="374.28" cy="554.41" r="0.98" fill="#8e1a42"/>
<circle cx="353.74" cy="556.76" r="0.98" fill="#8e1a42"/>
<circle cx="372.98" cy="498.49" r="0.98" fill="#8e1a42"/>
<path d="M357.52,513.59 L358.77,514.84 L357.52,516.09 L356.27,514.84 Z" fill="#28405e"/>
<circle cx="380.17" cy="571.46" r="0.98" fill="#8e1a42"/>
<path d="M371.99,611.12 L373.24,612.37 L371.99,613.62 L370.74,612.37 Z" fill="#28405e"/>
<path d="M365.24,600.36 L366.49,601.61 L365.24,602.86 L363.99,601.61 Z" fill="#28405e"/>
<circle cx="381.99" cy="544.03" r="0.98" fill="#8e1a42"/>
<circle cx="365.38" cy="563.84" r="0.98" fill="#8e1a42"/>
<circle cx="384.12" cy="610.89" r="0.98" fill="#8e1a42"/>
<path d="M365.37,598.07 L366.62,599.32 L365.37,600.57 L364.12,599.32 Z" fill="#28405e"/>
<path d="M363.37,570.59 L364.62,571.84 L363.37,573.09 L362.12,571.84 Z" fill="#28405e"/>
<path d="M380.28,574.21 L381.53,575.46 L380.28,576.71 L379.03,575.46 Z" fill="#28405e"/>
<circle cx="375.76" cy="579.07" r="0.98" fill="#8e1a42"/>
<circle cx="356.65" cy="535.45" r="0.98" fill="#8e1a42"/>
<circle cx="369.44" cy="575.62" r="0.98" fill="#8e1a42"/>
<path d="M355.10,536.43 L356.35,537.68 L355.10,538.93 L353.85,537.68 Z" fill="#28405e"/>
<circle cx="368.90" cy="493.07" r="0.98" fill="#8e1a42"/>
<circle cx="389.63" cy="537.10" r="0.98" fill="#8e1a42"/>
<circle cx="362.05" cy="502.72" r="0.98" fill="#8e1a42"/>
<path d="M353.53,491.99 L354.78,493.24 L353.53,494.49 L352.28,493.24 Z" fill="#28405e"/>
<path d="M363.19,560.80 L364.44,562.05 L363.19,563.30 L361.94,562.05 Z" fill="#28405e"/>
<circle cx="328.53" cy="582.31" r="0.98" fill="#8e1a42"/>
<path d="M330.98,550.96 L332.23,552.21 L330.98,553.46 L329.73,552.21 Z" fill="#28405e"/>
<path d="M392.49,527.52 L393.74,528.77 L392.49,530.02 L391.24,528.77 Z" fill="#28405e"/>
<path d="M384.73,508.73 L385.98,509.98 L384.73,511.23 L383.48,509.98 Z" fill="#28405e"/>
<path d="M342.36,567.87 L343.61,569.12 L342.36,570.37 L341.11,569.12 Z" fill="#28405e"/>
<path d="M382.70,569.68 L383.95,570.93 L382.70,572.18 L381.45,570.93 Z" fill="#28405e"/>
<path d="M343.59,550.69 L344.84,551.94 L343.59,553.19 L342.34,551.94 Z" fill="#28405e"/>
<path d="M370.56,544.82 L371.81,546.07 L370.56,547.32 L369.31,546.07 Z" fill="#28405e"/>
<path d="M356.10,564.91 L357.35,566.16 L356.10,567.41 L354.85,566.16 Z" fill="#28405e"/>
<path d="M333.35,577.04 L334.60,578.29 L333.35,579.54 L332.10,578.29 Z" fill="#28405e"/>
<circle cx="371.10" cy="492.41" r="0.98" fill="#8e1a42"/>
<path d="M377.09,560.12 L378.34,561.37 L377.09,562.62 L375.84,561.37 Z" fill="#28405e"/>
<circle cx="381.52" cy="496.91" r="0.98" fill="#8e1a42"/>
<path d="M385.83,564.88 L387.08,566.13 L385.83,567.38 L384.58,566.13 Z" fill="#28405e"/>
<path d="M348.44,576.33 L349.69,577.58 L348.44,578.83 L347.19,577.58 Z" fill="#28405e"/>
<path d="M336.26,506.77 L337.51,508.02 L336.26,509.27 L335.01,508.02 Z" fill="#28405e"/>
<circle cx="381.53" cy="557.27" r="0.98" fill="#8e1a42"/>
<circle cx="362.66" cy="525.40" r="0.98" fill="#8e1a42"/>
<path d="M344.68,567.97 L345.93,569.22 L344.68,570.47 L343.43,569.22 Z" fill="#28405e"/>
<circle cx="356.44" cy="557.00" r="0.98" fill="#8e1a42"/>
<circle cx="397.81" cy="559.48" r="0.98" fill="#8e1a42"/>
<circle cx="369.90" cy="589.94" r="0.98" fill="#8e1a42"/>
<circle cx="374.34" cy="508.61" r="0.98" fill="#8e1a42"/>
<circle cx="377.32" cy="516.07" r="0.98" fill="#8e1a42"/>
<circle cx="353.08" cy="600.02" r="0.98" fill="#8e1a42"/>
<circle cx="389.53" cy="513.34" r="0.98" fill="#8e1a42"/>
<circle cx="369.26" cy="525.04" r="0.98" fill="#8e1a42"/>
<path d="M365.37,513.67 L366.62,514.92 L365.37,516.17 L364.12,514.92 Z" fill="#28405e"/>
<path d="M368.88,588.74 L370.13,589.99 L368.88,591.24 L367.63,589.99 Z" fill="#28405e"/>
<circle cx="382.00" cy="548.88" r="0.98" fill="#8e1a42"/>
<path d="M342.92,578.78 L344.17,580.03 L342.92,581.28 L341.67,580.03 Z" fill="#28405e"/>
<circle cx="384.24" cy="583.20" r="0.98" fill="#8e1a42"/>
<path d="M354.37,579.99 L355.62,581.24 L354.37,582.49 L353.12,581.24 Z" fill="#28405e"/>
<path d="M350.29,550.56 L351.54,551.81 L350.29,553.06 L349.04,551.81 Z" fill="#28405e"/>
<path d="M357.81,591.60 L359.06,592.85 L357.81,594.10 L356.56,592.85 Z" fill="#28405e"/>
<circle cx="371.01" cy="604.75" r="0.98" fill="#8e1a42"/>
<path d="M348.46,558.54 L349.71,559.79 L348.46,561.04 L347.21,559.79 Z" fill="#28405e"/>
<path d="M372.45,493.30 L373.70,494.55 L372.45,495.80 L371.20,494.55 Z" fill="#28405e"/>
<path d="M359.85,531.63 L361.10,532.88 L359.85,534.13 L358.60,532.88 Z" fill="#28405e"/>
<path d="M340.99,508.33 L342.24,509.58 L340.99,510.83 L339.74,509.58 Z" fill="#28405e"/>
<path d="M389.41,549.76 L390.66,551.01 L389.41,552.26 L388.16,551.01 Z" fill="#28405e"/>
<path d="M360.81,517.43 L362.06,518.68 L360.81,519.93 L359.56,518.68 Z" fill="#28405e"/>
<path d="M345.92,580.86 L347.17,582.11 L345.92,583.36 L344.67,582.11 Z" fill="#28405e"/>
<path d="M347.94,528.71 L349.19,529.96 L347.94,531.21 L346.69,529.96 Z" fill="#28405e"/>
<path d="M354.63,571.38 L355.88,572.63 L354.63,573.88 L353.38,572.63 Z" fill="#28405e"/>
<circle cx="364.67" cy="517.32" r="0.98" fill="#8e1a42"/>
<path d="M360.89,552.65 L362.14,553.90 L360.89,555.15 L359.64,553.90 Z" fill="#28405e"/>
<path d="M363.06,539.82 L364.31,541.07 L363.06,542.32 L361.81,541.07 Z" fill="#28405e"/>
<path d="M362.21,551.13 L363.46,552.38 L362.21,553.63 L360.96,552.38 Z" fill="#28405e"/>
<path d="M353.47,609.36 L354.72,610.61 L353.47,611.86 L352.22,610.61 Z" fill="#28405e"/>
<path d="M381.72,548.90 L382.97,550.15 L381.72,551.40 L380.47,550.15 Z" fill="#28405e"/>
<circle cx="344.31" cy="578.90" r="0.98" fill="#8e1a42"/>
<path d="M374.76,558.60 L376.01,559.85 L374.76,561.10 L373.51,559.85 Z" fill="#28405e"/>
<circle cx="364.18" cy="515.26" r="0.98" fill="#8e1a42"/>
<circle cx="384.31" cy="543.70" r="0.98" fill="#8e1a42"/>
<circle cx="380.35" cy="582.36" r="0.98" fill="#8e1a42"/>
<circle cx="383.01" cy="557.29" r="0.98" fill="#8e1a42"/>
<circle cx="353.47" cy="542.68" r="0.98" fill="#8e1a42"/>
<path d="M347.70,551.50 L348.95,552.75 L347.70,554.00 L346.45,552.75 Z" fill="#28405e"/>
<path d="M376.73,526.59 L377.98,527.84 L376.73,529.09 L375.48,527.84 Z" fill="#28405e"/>
<circle cx="381.75" cy="538.90" r="0.98" fill="#8e1a42"/>
<path d="M381.62,539.74 L382.87,540.99 L381.62,542.24 L380.37,540.99 Z" fill="#28405e"/>
<path d="M374.81,553.94 L376.06,555.19 L374.81,556.44 L373.56,555.19 Z" fill="#28405e"/>
<circle cx="376.23" cy="589.74" r="0.98" fill="#8e1a42"/>
<circle cx="382.17" cy="516.12" r="0.98" fill="#8e1a42"/>
<path d="M361.33,569.31 L362.58,570.56 L361.33,571.81 L360.08,570.56 Z" fill="#28405e"/>
<circle cx="368.62" cy="510.36" r="0.98" fill="#8e1a42"/>
<circle cx="390.07" cy="504.27" r="0.98" fill="#8e1a42"/>
<circle cx="374.39" cy="509.32" r="0.98" fill="#8e1a42"/>
<path d="M368.05,497.49 L369.30,498.74 L368.05,499.99 L366.80,498.74 Z" fill="#28405e"/>
<path d="M351.16,585.34 L352.41,586.59 L351.16,587.84 L349.91,586.59 Z" fill="#28405e"/>
<circle cx="385.54" cy="566.12" r="0.98" fill="#8e1a42"/>
<path d="M352.38,565.34 L353.63,566.59 L352.38,567.84 L351.13,566.59 Z" fill="#28405e"/>
<circle cx="374.30" cy="539.63" r="0.98" fill="#8e1a42"/>
<circle cx="390.17" cy="492.93" r="0.98" fill="#8e1a42"/>
<path d="M354.09,521.19 L355.34,522.44 L354.09,523.69 L352.84,522.44 Z" fill="#28405e"/>
<path d="M346.35,612.59 L347.60,613.84 L346.35,615.09 L345.10,613.84 Z" fill="#28405e"/>
<path d="M359.08,603.66 L360.33,604.91 L359.08,606.16 L357.83,604.91 Z" fill="#28405e"/>
<path d="M327.35,601.82 L328.60,603.07 L327.35,604.32 L326.10,603.07 Z" fill="#28405e"/>
<path d="M327.18,560.28 L328.43,561.53 L327.18,562.78 L325.93,561.53 Z" fill="#28405e"/>
<circle cx="370.77" cy="580.78" r="0.98" fill="#8e1a42"/>
<circle cx="347.61" cy="535.45" r="0.98" fill="#8e1a42"/>
<path d="M358.68,522.64 L359.93,523.89 L358.68,525.14 L357.43,523.89 Z" fill="#28405e"/>
<path d="M347.41,556.38 L348.66,557.63 L347.41,558.88 L346.16,557.63 Z" fill="#28405e"/>
<path d="M342.86,525.54 L344.11,526.79 L342.86,528.04 L341.61,526.79 Z" fill="#28405e"/>
<path d="M364.86,595.80 L366.11,597.05 L364.86,598.30 L363.61,597.05 Z" fill="#28405e"/>
<circle cx="379.76" cy="541.19" r="0.98" fill="#8e1a42"/>
<path d="M372.04,521.11 L373.29,522.36 L372.04,523.61 L370.79,522.36 Z" fill="#28405e"/>
<path d="M392.85,553.23 L394.10,554.48 L392.85,555.73 L391.60,554.48 Z" fill="#28405e"/>
<circle cx="368.75" cy="548.03" r="0.98" fill="#8e1a42"/>
<circle cx="379.55" cy="549.97" r="0.98" fill="#8e1a42"/>
<circle cx="383.80" cy="556.84" r="0.98" fill="#8e1a42"/>
<circle cx="352.89" cy="526.72" r="0.98" fill="#8e1a42"/>
<circle cx="366.84" cy="524.16" r="0.98" fill="#8e1a42"/>
<path d="M371.95,509.32 L373.20,510.57 L371.95,511.82 L370.70,510.57 Z" fill="#28405e"/>
<path d="M360.33,601.94 L361.58,603.19 L360.33,604.44 L359.08,603.19 Z" fill="#28405e"/>
<path d="M386.58,549.45 L387.83,550.70 L386.58,551.95 L385.33,550.70 Z" fill="#28405e"/>
<circle cx="397.30" cy="556.42" r="0.98" fill="#8e1a42"/>
<circle cx="378.39" cy="537.55" r="0.98" fill="#8e1a42"/>
<circle cx="355.81" cy="518.72" r="0.98" fill="#8e1a42"/>
<circle cx="372.61" cy="506.54" r="0.98" fill="#8e1a42"/>
<circle cx="371.45" cy="533.51" r="0.98" fill="#8e1a42"/>
<circle cx="365.14" cy="535.96" r="0.98" fill="#8e1a42"/>
<circle cx="373.20" cy="533.97" r="0.98" fill="#8e1a42"/>
<path d="M333.63,575.38 L334.88,576.63 L333.63,577.88 L332.38,576.63 Z" fill="#28405e"/>
<circle cx="363.78" cy="570.14" r="0.98" fill="#8e1a42"/>
<circle cx="354.36" cy="498.60" r="0.98" fill="#8e1a42"/>
<circle cx="385.31" cy="568.92" r="0.98" fill="#8e1a42"/>
<circle cx="379.05" cy="575.54" r="0.98" fill="#8e1a42"/>
<circle cx="384.15" cy="532.07" r="0.98" fill="#8e1a42"/>
<circle cx="366.52" cy="584.10" r="0.98" fill="#8e1a42"/>
<circle cx="339.09" cy="545.99" r="0.98" fill="#8e1a42"/>
<path d="M343.97,522.01 L345.22,523.26 L343.97,524.51 L342.72,523.26 Z" fill="#28405e"/>
<circle cx="382.34" cy="572.71" r="0.98" fill="#8e1a42"/>
<circle cx="385.41" cy="554.19" r="0.98" fill="#8e1a42"/>
<circle cx="350.88" cy="600.40" r="0.98" fill="#8e1a42"/>
<path d="M331.10,560.28 L332.35,561.53 L331.10,562.78 L329.85,561.53 Z" fill="#28405e"/>
<circle cx="377.91" cy="560.33" r="0.98" fill="#8e1a42"/>
<path d="M373.92,527.73 L375.17,528.98 L373.92,530.23 L372.67,528.98 Z" fill="#28405e"/>
<circle cx="377.09" cy="552.58" r="0.98" fill="#8e1a42"/>
<path d="M373.88,544.74 L375.13,545.99 L373.88,547.24 L372.63,545.99 Z" fill="#28405e"/>
<circle cx="398.64" cy="605.82" r="0.98" fill="#8e1a42"/>
<circle cx="360.94" cy="531.55" r="0.98" fill="#8e1a42"/>
<circle cx="375.10" cy="580.69" r="0.98" fill="#8e1a42"/>
<circle cx="356.75" cy="536.41" r="0.98" fill="#8e1a42"/>
<path d="M337.84,514.12 L339.09,515.37 L337.84,516.62 L336.59,515.37 Z" fill="#28405e"/>
<path d="M354.56,533.84 L355.81,535.09 L354.56,536.34 L353.31,535.09 Z" fill="#28405e"/>
<circle cx="364.57" cy="548.81" r="0.98" fill="#8e1a42"/>
<path d="M368.81,560.68 L370.06,561.93 L368.81,563.18 L367.56,561.93 Z" fill="#28405e"/>
<path d="M356.94,558.40 L358.19,559.65 L356.94,560.90 L355.69,559.65 Z" fill="#28405e"/>
<path d="M368.34,565.45 L369.59,566.70 L368.34,567.95 L367.09,566.70 Z" fill="#28405e"/>
<circle cx="375.89" cy="592.66" r="0.98" fill="#8e1a42"/>
<circle cx="352.94" cy="542.65" r="0.98" fill="#8e1a42"/>
<circle cx="365.69" cy="505.43" r="0.98" fill="#8e1a42"/>
<path d="M349.78,610.78 L351.03,612.03 L349.78,613.28 L348.53,612.03 Z" fill="#28405e"/>
<path d="M356.07,523.83 L357.32,525.08 L356.07,526.33 L354.82,525.08 Z" fill="#28405e"/>
<path d="M357.65,490.43 L358.90,491.68 L357.65,492.93 L356.40,491.68 Z" fill="#28405e"/>
<circle cx="401.81" cy="505.07" r="0.98" fill="#8e1a42"/>
<path d="M328.25,578.51 L329.50,579.76 L328.25,581.01 L327.00,579.76 Z" fill="#28405e"/>
<path d="M387.70,542.31 L388.95,543.56 L387.70,544.81 L386.45,543.56 Z" fill="#28405e"/>
<circle cx="392.61" cy="511.96" r="0.98" fill="#8e1a42"/>
<circle cx="374.50" cy="527.50" r="0.98" fill="#8e1a42"/>
<path d="M361.89,570.75 L363.14,572.00 L361.89,573.25 L360.64,572.00 Z" fill="#28405e"/>
<path d="M350.58,497.54 L351.83,498.79 L350.58,500.04 L349.33,498.79 Z" fill="#28405e"/>
<circle cx="375.28" cy="504.58" r="0.98" fill="#8e1a42"/>
<circle cx="362.78" cy="520.43" r="0.98" fill="#8e1a42"/>
<circle cx="340.91" cy="526.13" r="0.98" fill="#8e1a42"/>
<path d="M391.44,540.45 L392.69,541.70 L391.44,542.95 L390.19,541.70 Z" fill="#28405e"/>
<circle cx="401.49" cy="523.56" r="0.98" fill="#8e1a42"/>
<path d="M333.64,609.38 L334.89,610.63 L333.64,611.88 L332.39,610.63 Z" fill="#28405e"/>
<circle cx="395.70" cy="497.21" r="0.98" fill="#8e1a42"/>
<circle cx="352.05" cy="555.48" r="0.98" fill="#8e1a42"/>
<circle cx="352.54" cy="543.87" r="0.98" fill="#8e1a42"/>
<circle cx="376.35" cy="537.45" r="0.98" fill="#8e1a42"/>
<path d="M342.04,509.36 L343.29,510.61 L342.04,511.86 L340.79,510.61 Z" fill="#28405e"/>
<path d="M333.17,598.41 L334.42,599.66 L333.17,600.91 L331.92,599.66 Z" fill="#28405e"/>
<circle cx="361.48" cy="557.82" r="0.98" fill="#8e1a42"/>
<path d="M359.88,610.43 L361.13,611.68 L359.88,612.93 L358.63,611.68 Z" fill="#28405e"/>
<path d="M371.27,575.43 L372.52,576.68 L371.27,577.93 L370.02,576.68 Z" fill="#28405e"/>
<circle cx="370.43" cy="598.17" r="0.98" fill="#8e1a42"/>
<circle cx="387.04" cy="498.00" r="0.98" fill="#8e1a42"/>
<circle cx="390.31" cy="565.70" r="0.98" fill="#8e1a42"/>
<circle cx="354.68" cy="595.00" r="0.98" fill="#8e1a42"/>
<circle cx="382.98" cy="549.40" r="0.98" fill="#8e1a42"/>
<circle cx="379.69" cy="576.89" r="0.98" fill="#8e1a42"/>
<circle cx="378.11" cy="574.52" r="0.98" fill="#8e1a42"/>
<circle cx="335.51" cy="579.75" r="0.98" fill="#8e1a42"/>
<circle cx="372.39" cy="562.10" r="0.98" fill="#8e1a42"/>
<circle cx="393.87" cy="558.47" r="0.98" fill="#8e1a42"/>
<circle cx="358.01" cy="540.03" r="0.98" fill="#8e1a42"/>
<path d="M342.15,534.75 L343.40,536.00 L342.15,537.25 L340.90,536.00 Z" fill="#28405e"/>
<circle cx="370.44" cy="594.36" r="0.98" fill="#8e1a42"/>
<circle cx="360.40" cy="565.06" r="0.98" fill="#8e1a42"/>
<circle cx="358.75" cy="537.75" r="0.98" fill="#8e1a42"/>
<circle cx="365.38" cy="506.51" r="0.98" fill="#8e1a42"/>
<path d="M340.06,604.83 L341.31,606.08 L340.06,607.33 L338.81,606.08 Z" fill="#28405e"/>
<circle cx="372.54" cy="571.90" r="0.98" fill="#8e1a42"/>
<circle cx="358.43" cy="492.93" r="0.98" fill="#8e1a42"/>
<path d="M356.21,607.38 L357.46,608.63 L356.21,609.88 L354.96,608.63 Z" fill="#28405e"/>
<circle cx="364.50" cy="582.72" r="0.98" fill="#8e1a42"/>
<circle cx="375.47" cy="578.94" r="0.98" fill="#8e1a42"/>
<circle cx="336.76" cy="574.77" r="0.98" fill="#8e1a42"/>
<path d="M346.99,585.76 L348.24,587.01 L346.99,588.26 L345.74,587.01 Z" fill="#28405e"/>
<path d="M357.52,507.47 L358.77,508.72 L357.52,509.97 L356.27,508.72 Z" fill="#28405e"/>
<circle cx="373.10" cy="560.02" r="0.98" fill="#8e1a42"/>
<path d="M339.36,576.89 L340.61,578.14 L339.36,579.39 L338.11,578.14 Z" fill="#28405e"/>
<circle cx="392.67" cy="598.77" r="0.98" fill="#8e1a42"/>
<path d="M360.01,559.79 L361.26,561.04 L360.01,562.29 L358.76,561.04 Z" fill="#28405e"/>
<circle cx="386.82" cy="596.16" r="0.98" fill="#8e1a42"/>
<path d="M393.25,557.00 L394.50,558.25 L393.25,559.50 L392.00,558.25 Z" fill="#28405e"/>
<circle cx="369.46" cy="559.48" r="0.98" fill="#8e1a42"/>
<circle cx="394.37" cy="559.53" r="0.98" fill="#8e1a42"/>
<path d="M364.71,538.42 L365.96,539.67 L364.71,540.92 L363.46,539.67 Z" fill="#28405e"/>
<circle cx="381.07" cy="526.67" r="0.98" fill="#8e1a42"/>
<circle cx="367.85" cy="539.30" r="0.98" fill="#8e1a42"/>
<circle cx="362.37" cy="555.97" r="0.98" fill="#8e1a42"/>
<circle cx="390.13" cy="594.73" r="0.98" fill="#8e1a42"/>
<path d="M343.95,565.29 L345.20,566.54 L343.95,567.79 L342.70,566.54 Z" fill="#28405e"/>
<path d="M353.32,534.87 L354.57,536.12 L353.32,537.37 L352.07,536.12 Z" fill="#28405e"/>
<path d="M332.03,614.08 L333.28,615.33 L332.03,616.58 L330.78,615.33 Z" fill="#28405e"/>
<circle cx="379.25" cy="529.08" r="0.98" fill="#8e1a42"/>
<circle cx="364.34" cy="519.88" r="0.98" fill="#8e1a42"/>
<path d="M371.88,550.43 L373.13,551.68 L371.88,552.93 L370.63,551.68 Z" fill="#28405e"/>
<path d="M335.77,550.18 L337.02,551.43 L335.77,552.68 L334.52,551.43 Z" fill="#28405e"/>
<circle cx="374.15" cy="565.18" r="0.98" fill="#8e1a42"/>
<circle cx="370.99" cy="540.59" r="0.98" fill="#8e1a42"/>
<circle cx="364.30" cy="534.12" r="0.98" fill="#8e1a42"/>
<path d="M341.01,582.28 L342.26,583.53 L341.01,584.78 L339.76,583.53 Z" fill="#28405e"/>
<circle cx="374.51" cy="504.05" r="0.98" fill="#8e1a42"/>
<circle cx="387.42" cy="604.93" r="0.98" fill="#8e1a42"/>
<circle cx="378.48" cy="609.87" r="0.98" fill="#8e1a42"/>
<path d="M364.05,527.16 L365.30,528.41 L364.05,529.66 L362.80,528.41 Z" fill="#28405e"/>
<path d="M347.53,564.37 L348.78,565.62 L347.53,566.87 L346.28,565.62 Z" fill="#28405e"/>
<path d="M378.63,493.64 L379.88,494.89 L378.63,496.14 L377.38,494.89 Z" fill="#28405e"/>
<path d="M347.45,515.56 L348.70,516.81 L347.45,518.06 L346.20,516.81 Z" fill="#28405e"/>
<path d="M354.72,570.52 L355.97,571.77 L354.72,573.02 L353.47,571.77 Z" fill="#28405e"/>
<path d="M386.68,548.81 L387.93,550.06 L386.68,551.31 L385.43,550.06 Z" fill="#28405e"/>
<circle cx="402.86" cy="570.05" r="0.98" fill="#8e1a42"/>
<path d="M366.72,568.26 L367.97,569.51 L366.72,570.76 L365.47,569.51 Z" fill="#28405e"/>
<circle cx="380.86" cy="603.54" r="0.98" fill="#8e1a42"/>
<circle cx="387.79" cy="521.35" r="0.98" fill="#8e1a42"/>
<path d="M358.76,528.15 L360.01,529.40 L358.76,530.65 L357.51,529.40 Z" fill="#28405e"/>
<path d="M371.27,512.38 L372.52,513.63 L371.27,514.88 L370.02,513.63 Z" fill="#28405e"/>
<path d="M394.83,572.50 L396.08,573.75 L394.83,575.00 L393.58,573.75 Z" fill="#28405e"/>
<path d="M354.27,518.37 L355.52,519.62 L354.27,520.87 L353.02,519.62 Z" fill="#28405e"/>
<path d="M339.28,612.63 L340.53,613.88 L339.28,615.13 L338.03,613.88 Z" fill="#28405e"/>
<circle cx="373.67" cy="565.96" r="0.98" fill="#8e1a42"/>
<path d="M375.69,590.15 L376.94,591.40 L375.69,592.65 L374.44,591.40 Z" fill="#28405e"/>
<circle cx="376.28" cy="525.89" r="0.98" fill="#8e1a42"/>
<circle cx="365.36" cy="603.13" r="0.98" fill="#8e1a42"/>
<path d="M326.95,554.15 L328.20,555.40 L326.95,556.65 L325.70,555.40 Z" fill="#28405e"/>
<circle cx="397.87" cy="560.50" r="0.98" fill="#8e1a42"/>
<circle cx="368.54" cy="573.28" r="0.98" fill="#8e1a42"/>
<path d="M358.62,519.35 L359.87,520.60 L358.62,521.85 L357.37,520.60 Z" fill="#28405e"/>
<circle cx="338.95" cy="588.46" r="0.98" fill="#8e1a42"/>
<path d="M388.11,557.72 L389.36,558.97 L388.11,560.22 L386.86,558.97 Z" fill="#28405e"/>
<path d="M348.73,560.37 L349.98,561.62 L348.73,562.87 L347.48,561.62 Z" fill="#28405e"/>
<path d="M358.24,562.26 L359.49,563.51 L358.24,564.76 L356.99,563.51 Z" fill="#28405e"/>
<circle cx="324.71" cy="556.05" r="0.98" fill="#8e1a42"/>
<path d="M358.27,491.97 L359.52,493.22 L358.27,494.47 L357.02,493.22 Z" fill="#28405e"/>
<circle cx="362.55" cy="546.21" r="0.98" fill="#8e1a42"/>
<path d="M339.07,608.27 L340.32,609.52 L339.07,610.77 L337.82,609.52 Z" fill="#28405e"/>
<circle cx="359.95" cy="509.28" r="0.98" fill="#8e1a42"/>
<circle cx="348.87" cy="530.29" r="0.98" fill="#8e1a42"/>
<path d="M356.33,500.81 L357.58,502.06 L356.33,503.31 L355.08,502.06 Z" fill="#28405e"/>
<path d="M384.26,521.60 L385.51,522.85 L384.26,524.10 L383.01,522.85 Z" fill="#28405e"/>
<circle cx="380.22" cy="594.77" r="0.98" fill="#8e1a42"/>
<circle cx="366.41" cy="612.32" r="0.98" fill="#8e1a42"/>
<circle cx="373.53" cy="586.16" r="0.98" fill="#8e1a42"/>
<path d="M380.78,553.30 L382.03,554.55 L380.78,555.80 L379.53,554.55 Z" fill="#28405e"/>
<circle cx="370.21" cy="540.12" r="0.98" fill="#8e1a42"/>
<circle cx="361.27" cy="577.36" r="0.98" fill="#8e1a42"/>
<path d="M353.95,519.96 L355.20,521.21 L353.95,522.46 L352.70,521.21 Z" fill="#28405e"/>
<path d="M381.15,536.89 L382.40,538.14 L381.15,539.39 L379.90,538.14 Z" fill="#28405e"/>
<path d="M367.25,584.28 L368.50,585.53 L367.25,586.78 L366.00,585.53 Z" fill="#28405e"/>
<path d="M352.51,532.65 L353.76,533.90 L352.51,535.15 L351.26,533.90 Z" fill="#28405e"/>
<path d="M355.04,498.36 L356.29,499.61 L355.04,500.86 L353.79,499.61 Z" fill="#28405e"/>
<circle cx="366.53" cy="588.67" r="0.98" fill="#8e1a42"/>
<circle cx="358.23" cy="513.95" r="0.98" fill="#8e1a42"/>
<circle cx="361.40" cy="549.46" r="0.98" fill="#8e1a42"/>
<circle cx="344.31" cy="615.16" r="0.98" fill="#8e1a42"/>
<path d="M341.96,498.85 L343.21,500.10 L341.96,501.35 L340.71,500.10 Z" fill="#28405e"/>
<circle cx="380.40" cy="525.31" r="0.98" fill="#8e1a42"/>
<path d="M361.46,605.20 L362.71,606.45 L361.46,607.70 L360.21,606.45 Z" fill="#28405e"/>
<circle cx="395.18" cy="536.14" r="0.98" fill="#8e1a42"/>
<circle cx="353.01" cy="613.91" r="0.98" fill="#8e1a42"/>
<circle cx="320.17" cy="539.05" r="0.98" fill="#8e1a42"/>
<circle cx="399.08" cy="532.55" r="0.98" fill="#8e1a42"/>
<circle cx="366.75" cy="540.25" r="0.98" fill="#8e1a42"/>
<circle cx="374.66" cy="494.97" r="0.98" fill="#8e1a42"/>
<circle cx="387.12" cy="559.00" r="0.98" fill="#8e1a42"/>
<circle cx="355.74" cy="591.44" r="0.98" fill="#8e1a42"/>
<path d="M352.23,578.85 L353.48,580.10 L352.23,581.35 L350.98,580.10 Z" fill="#28405e"/>
<circle cx="363.19" cy="599.25" r="0.98" fill="#8e1a42"/>
<circle cx="382.45" cy="496.09" r="0.98" fill="#8e1a42"/>
<path d="M357.09,504.80 L358.34,506.05 L357.09,507.30 L355.84,506.05 Z" fill="#28405e"/>
<circle cx="376.14" cy="574.81" r="0.98" fill="#8e1a42"/>
<circle cx="351.35" cy="570.06" r="0.98" fill="#8e1a42"/>
<circle cx="386.03" cy="540.05" r="0.98" fill="#8e1a42"/>
<circle cx="374.98" cy="525.98" r="0.98" fill="#8e1a42"/>
<circle cx="381.58" cy="550.40" r="0.98" fill="#8e1a42"/>
<circle cx="393.93" cy="533.73" r="0.98" fill="#8e1a42"/>
<path d="M355.72,562.58 L356.97,563.83 L355.72,565.08 L354.47,563.83 Z" fill="#28405e"/>
<path d="M340.21,538.67 L341.46,539.92 L340.21,541.17 L338.96,539.92 Z" fill="#28405e"/>
<circle cx="390.03" cy="541.55" r="0.98" fill="#8e1a42"/>
<circle cx="375.32" cy="531.69" r="0.98" fill="#8e1a42"/>
<circle cx="388.08" cy="534.39" r="0.98" fill="#8e1a42"/>
<circle cx="376.30" cy="531.63" r="0.98" fill="#8e1a42"/>
<path d="M344.30,585.82 L345.55,587.07 L344.30,588.32 L343.05,587.07 Z" fill="#28405e"/>
<path d="M341.87,584.62 L343.12,585.87 L341.87,587.12 L340.62,585.87 Z" fill="#28405e"/>
<path d="M347.47,524.27 L348.72,525.52 L347.47,526.77 L346.22,525.52 Z" fill="#28405e"/>
<circle cx="394.93" cy="507.52" r="0.98" fill="#8e1a42"/>
<path d="M357.48,553.13 L358.73,554.38 L357.48,555.63 L356.23,554.38 Z" fill="#28405e"/>
<circle cx="385.12" cy="515.06" r="0.98" fill="#8e1a42"/>
<circle cx="365.74" cy="556.13" r="0.98" fill="#8e1a42"/>
<path d="M339.72,519.67 L340.97,520.92 L339.72,522.17 L338.47,520.92 Z" fill="#28405e"/>
<path d="M326.17,556.49 L327.42,557.74 L326.17,558.99 L324.92,557.74 Z" fill="#28405e"/>
<path d="M351.98,533.08 L353.23,534.33 L351.98,535.58 L350.73,534.33 Z" fill="#28405e"/>
<path d="M351.68,579.24 L352.93,580.49 L351.68,581.74 L350.43,580.49 Z" fill="#28405e"/>
<circle cx="382.59" cy="512.97" r="0.98" fill="#8e1a42"/>
<circle cx="391.69" cy="537.19" r="0.98" fill="#8e1a42"/>
<circle cx="363.54" cy="534.43" r="0.98" fill="#8e1a42"/>
<circle cx="359.34" cy="513.22" r="0.98" fill="#8e1a42"/>
<path d="M368.97,502.53 L370.22,503.78 L368.97,505.03 L367.72,503.78 Z" fill="#28405e"/>
<circle cx="369.09" cy="547.45" r="0.98" fill="#8e1a42"/>
<circle cx="372.48" cy="521.99" r="0.98" fill="#8e1a42"/>
<circle cx="356.65" cy="590.56" r="0.98" fill="#8e1a42"/>
<circle cx="399.75" cy="555.46" r="0.98" fill="#8e1a42"/>
<circle cx="383.45" cy="585.91" r="0.98" fill="#8e1a42"/>
<path d="M329.35,578.12 L330.60,579.37 L329.35,580.62 L328.10,579.37 Z" fill="#28405e"/>
<path d="M353.59,559.66 L354.84,560.91 L353.59,562.16 L352.34,560.91 Z" fill="#28405e"/>
<circle cx="378.54" cy="558.28" r="0.98" fill="#8e1a42"/>
<path d="M369.55,607.38 L370.80,608.63 L369.55,609.88 L368.30,608.63 Z" fill="#28405e"/>
<circle cx="361.36" cy="569.93" r="0.98" fill="#8e1a42"/>
<path d="M363.44,564.21 L364.69,565.46 L363.44,566.71 L362.19,565.46 Z" fill="#28405e"/>
<path d="M365.06,495.05 L366.31,496.30 L365.06,497.55 L363.81,496.30 Z" fill="#28405e"/>
<circle cx="400.15" cy="532.26" r="0.98" fill="#8e1a42"/>
<path d="M352.01,550.13 L353.26,551.38 L352.01,552.63 L350.76,551.38 Z" fill="#28405e"/>
<path d="M358.58,573.17 L359.83,574.42 L358.58,575.67 L357.33,574.42 Z" fill="#28405e"/>
<circle cx="382.59" cy="585.24" r="0.98" fill="#8e1a42"/>
<circle cx="359.12" cy="591.02" r="0.98" fill="#8e1a42"/>
<circle cx="381.19" cy="504.39" r="0.98" fill="#8e1a42"/>
<circle cx="360.67" cy="531.46" r="0.98" fill="#8e1a42"/>
<circle cx="359.31" cy="508.95" r="0.98" fill="#8e1a42"/>
<circle cx="354.52" cy="536.73" r="0.98" fill="#8e1a42"/>
<circle cx="380.48" cy="499.05" r="0.98" fill="#8e1a42"/>
<path d="M353.43,550.18 L354.68,551.43 L353.43,552.68 L352.18,551.43 Z" fill="#28405e"/>
<path d="M340.68,598.16 L341.93,599.41 L340.68,600.66 L339.43,599.41 Z" fill="#28405e"/>
<circle cx="371.78" cy="498.21" r="0.98" fill="#8e1a42"/>
<path d="M354.35,537.45 L355.60,538.70 L354.35,539.95 L353.10,538.70 Z" fill="#28405e"/>
<path d="M360.97,587.19 L362.22,588.44 L360.97,589.69 L359.72,588.44 Z" fill="#28405e"/>
<circle cx="369.09" cy="559.14" r="0.98" fill="#8e1a42"/>
<circle cx="353.45" cy="500.33" r="0.98" fill="#8e1a42"/>
<circle cx="388.47" cy="492.31" r="0.98" fill="#8e1a42"/>
<path d="M363.09,591.38 L364.34,592.63 L363.09,593.88 L361.84,592.63 Z" fill="#28405e"/>
<path d="M342.96,551.98 L344.21,553.23 L342.96,554.48 L341.71,553.23 Z" fill="#28405e"/>
<circle cx="336.52" cy="609.80" r="0.98" fill="#8e1a42"/>
<circle cx="389.48" cy="583.02" r="0.98" fill="#8e1a42"/>
<path d="M370.70,535.91 L371.95,537.16 L370.70,538.41 L369.45,537.16 Z" fill="#28405e"/>
<circle cx="389.41" cy="527.78" r="0.98" fill="#8e1a42"/>
<circle cx="356.64" cy="604.14" r="0.98" fill="#8e1a42"/>
<circle cx="372.32" cy="568.01" r="0.98" fill="#8e1a42"/>
<circle cx="364.26" cy="604.01" r="0.98" fill="#8e1a42"/>
<circle cx="375.12" cy="544.84" r="0.98" fill="#8e1a42"/>
<path d="M354.51,540.17 L355.76,541.42 L354.51,542.67 L353.26,541.42 Z" fill="#28405e"/>
<circle cx="382.16" cy="601.06" r="0.98" fill="#8e1a42"/>
<circle cx="393.14" cy="611.33" r="0.98" fill="#8e1a42"/>
<path d="M370.06,578.01 L371.31,579.26 L370.06,580.51 L368.81,579.26 Z" fill="#28405e"/>
<circle cx="356.84" cy="577.55" r="0.98" fill="#8e1a42"/>
<circle cx="381.47" cy="573.17" r="0.98" fill="#8e1a42"/>
<path d="M368.24,588.90 L369.49,590.15 L368.24,591.40 L366.99,590.15 Z" fill="#28405e"/>
<path d="M344.80,595.11 L346.05,596.36 L344.80,597.61 L343.55,596.36 Z" fill="#28405e"/>
<path d="M344.05,594.44 L345.30,595.69 L344.05,596.94 L342.80,595.69 Z" fill="#28405e"/>
<circle cx="344.58" cy="574.18" r="0.98" fill="#8e1a42"/>
<circle cx="340.06" cy="570.34" r="0.98" fill="#8e1a42"/>
<path d="M338.97,538.81 L340.22,540.06 L338.97,541.31 L337.72,540.06 Z" fill="#28405e"/>
<path d="M377.69,567.95 L378.94,569.20 L377.69,570.45 L376.44,569.20 Z" fill="#28405e"/>
<path d="M349.05,582.28 L350.30,583.53 L349.05,584.78 L347.80,583.53 Z" fill="#28405e"/>
<circle cx="390.11" cy="599.43" r="0.98" fill="#8e1a42"/>
<path d="M367.73,532.87 L368.98,534.12 L367.73,535.37 L366.48,534.12 Z" fill="#28405e"/>
<path d="M346.71,606.89 L347.96,608.14 L346.71,609.39 L345.46,608.14 Z" fill="#28405e"/>
<circle cx="391.59" cy="615.21" r="0.98" fill="#8e1a42"/>
<circle cx="377.65" cy="591.90" r="0.98" fill="#8e1a42"/>
<path d="M366.02,597.94 L367.27,599.19 L366.02,600.44 L364.77,599.19 Z" fill="#28405e"/>
<path d="M381.17,559.12 L382.42,560.37 L381.17,561.62 L379.92,560.37 Z" fill="#28405e"/>
<path d="M379.99,519.98 L381.24,521.23 L379.99,522.48 L378.74,521.23 Z" fill="#28405e"/>
<path d="M324.92,602.96 L326.17,604.21 L324.92,605.46 L323.67,604.21 Z" fill="#28405e"/>
<circle cx="371.34" cy="536.73" r="0.98" fill="#8e1a42"/>
<circle cx="369.87" cy="560.84" r="0.98" fill="#8e1a42"/>
<path d="M352.43,595.90 L353.68,597.15 L352.43,598.40 L351.18,597.15 Z" fill="#28405e"/>
<path d="M391.67,568.40 L392.92,569.65 L391.67,570.90 L390.42,569.65 Z" fill="#28405e"/>
<circle cx="393.87" cy="570.55" r="0.98" fill="#8e1a42"/>
<circle cx="355.07" cy="533.45" r="0.98" fill="#8e1a42"/>
<circle cx="356.90" cy="594.77" r="0.98" fill="#8e1a42"/>
<circle cx="355.45" cy="538.19" r="0.98" fill="#8e1a42"/>
<circle cx="348.58" cy="559.30" r="0.98" fill="#8e1a42"/>
<path d="M353.95,536.76 L355.20,538.01 L353.95,539.26 L352.70,538.01 Z" fill="#28405e"/>
<circle cx="333.07" cy="542.03" r="0.98" fill="#8e1a42"/>
<circle cx="383.84" cy="506.53" r="0.98" fill="#8e1a42"/>
<circle cx="383.91" cy="554.31" r="0.98" fill="#8e1a42"/>
<circle cx="356.88" cy="563.41" r="0.98" fill="#8e1a42"/>
<circle cx="379.36" cy="488.90" r="0.98" fill="#8e1a42"/>
<circle cx="353.86" cy="529.68" r="0.98" fill="#8e1a42"/>
<path d="M320.59,524.91 L321.84,526.16 L320.59,527.41 L319.34,526.16 Z" fill="#28405e"/>
<path d="M354.89,581.81 L356.14,583.06 L354.89,584.31 L353.64,583.06 Z" fill="#28405e"/>
<circle cx="347.80" cy="602.92" r="0.98" fill="#8e1a42"/>
<circle cx="384.53" cy="533.70" r="0.98" fill="#8e1a42"/>
<path d="M340.90,502.18 L342.15,503.43 L340.90,504.68 L339.65,503.43 Z" fill="#28405e"/>
<path d="M342.56,535.20 L343.81,536.45 L342.56,537.70 L341.31,536.45 Z" fill="#28405e"/>
<path d="M382.03,601.99 L383.28,603.24 L382.03,604.49 L380.78,603.24 Z" fill="#28405e"/>
<path d="M343.32,568.87 L344.57,570.12 L343.32,571.37 L342.07,570.12 Z" fill="#28405e"/>
<path d="M366.96,573.61 L368.21,574.86 L366.96,576.11 L365.71,574.86 Z" fill="#28405e"/>
<path d="M351.97,593.33 L353.22,594.58 L351.97,595.83 L350.72,594.58 Z" fill="#28405e"/>
<circle cx="363.65" cy="567.13" r="0.98" fill="#8e1a42"/>
<circle cx="376.22" cy="573.01" r="0.98" fill="#8e1a42"/>
<circle cx="373.15" cy="583.73" r="0.98" fill="#8e1a42"/>
<path d="M363.12,563.83 L364.37,565.08 L363.12,566.33 L361.87,565.08 Z" fill="#28405e"/>
<circle cx="368.69" cy="533.09" r="0.98" fill="#8e1a42"/>
<path d="M351.07,597.21 L352.32,598.46 L351.07,599.71 L349.82,598.46 Z" fill="#28405e"/>
<circle cx="365.17" cy="583.58" r="0.98" fill="#8e1a42"/>
<circle cx="373.06" cy="504.90" r="0.98" fill="#8e1a42"/>
<circle cx="346.24" cy="561.98" r="0.98" fill="#8e1a42"/>
<circle cx="354.50" cy="555.03" r="0.98" fill="#8e1a42"/>
<circle cx="395.38" cy="497.79" r="0.98" fill="#8e1a42"/>
<circle cx="322.95" cy="560.76" r="0.98" fill="#8e1a42"/>
<circle cx="395.76" cy="570.77" r="0.98" fill="#8e1a42"/>
<circle cx="357.15" cy="586.19" r="0.98" fill="#8e1a42"/>
<circle cx="358.21" cy="593.30" r="0.98" fill="#8e1a42"/>
<circle cx="348.19" cy="494.57" r="0.98" fill="#8e1a42"/>
<circle cx="337.93" cy="611.78" r="0.98" fill="#8e1a42"/>
<circle cx="346.03" cy="500.79" r="0.98" fill="#8e1a42"/>
<path d="M349.83,604.60 L351.08,605.85 L349.83,607.10 L348.58,605.85 Z" fill="#28405e"/>
<circle cx="387.26" cy="586.59" r="0.98" fill="#8e1a42"/>
<path d="M351.56,541.92 L352.81,543.17 L351.56,544.42 L350.31,543.17 Z" fill="#28405e"/>
<circle cx="377.69" cy="536.98" r="0.98" fill="#8e1a42"/>
<circle cx="345.60" cy="535.81" r="0.98" fill="#8e1a42"/>
<circle cx="388.11" cy="569.89" r="0.98" fill="#8e1a42"/>
<circle cx="377.23" cy="518.83" r="0.98" fill="#8e1a42"/>
<path d="M352.27,529.05 L353.52,530.30 L352.27,531.55 L351.02,530.30 Z" fill="#28405e"/>
<circle cx="371.79" cy="492.12" r="0.98" fill="#8e1a42"/>
<path d="M362.23,594.96 L363.48,596.21 L362.23,597.46 L360.98,596.21 Z" fill="#28405e"/>
<path d="M351.34,564.51 L352.59,565.76 L351.34,567.01 L350.09,565.76 Z" fill="#28405e"/>
<circle cx="380.12" cy="530.39" r="0.98" fill="#8e1a42"/>
<circle cx="370.75" cy="585.22" r="0.98" fill="#8e1a42"/>
<circle cx="364.53" cy="590.46" r="0.98" fill="#8e1a42"/>
<circle cx="376.76" cy="535.88" r="0.98" fill="#8e1a42"/>
<circle cx="367.07" cy="614.01" r="0.98" fill="#8e1a42"/>
<circle cx="374.18" cy="532.68" r="0.98" fill="#8e1a42"/>
<circle cx="393.49" cy="514.22" r="0.98" fill="#8e1a42"/>
<path d="M360.67,567.21 L361.92,568.46 L360.67,569.71 L359.42,568.46 Z" fill="#28405e"/>
<path d="M363.23,549.87 L364.48,551.12 L363.23,552.37 L361.98,551.12 Z" fill="#28405e"/>
<path d="M361.85,574.71 L363.10,575.96 L361.85,577.21 L360.60,575.96 Z" fill="#28405e"/>
<circle cx="375.57" cy="602.62" r="0.98" fill="#8e1a42"/>
<circle cx="382.89" cy="532.48" r="0.98" fill="#8e1a42"/>
<circle cx="366.39" cy="530.99" r="0.98" fill="#8e1a42"/>
<circle cx="352.09" cy="544.50" r="0.98" fill="#8e1a42"/>
<path d="M344.70,528.51 L345.95,529.76 L344.70,531.01 L343.45,529.76 Z" fill="#28405e"/>
<circle cx="364.77" cy="606.28" r="0.98" fill="#8e1a42"/>
<circle cx="392.13" cy="586.14" r="0.98" fill="#8e1a42"/>
<circle cx="396.91" cy="544.99" r="0.98" fill="#8e1a42"/>
<path d="M351.36,586.24 L352.61,587.49 L351.36,588.74 L350.11,587.49 Z" fill="#28405e"/>
<circle cx="388.51" cy="588.32" r="0.98" fill="#8e1a42"/>
<circle cx="387.62" cy="516.27" r="0.98" fill="#8e1a42"/>
<path d="M345.26,533.47 L346.51,534.72 L345.26,535.97 L344.01,534.72 Z" fill="#28405e"/>
<path d="M347.99,595.04 L349.24,596.29 L347.99,597.54 L346.74,596.29 Z" fill="#28405e"/>
<circle cx="384.73" cy="551.06" r="0.98" fill="#8e1a42"/>
<path d="M365.68,522.41 L366.93,523.66 L365.68,524.91 L364.43,523.66 Z" fill="#28405e"/>
<circle cx="402.07" cy="523.13" r="0.98" fill="#8e1a42"/>
<path d="M335.82,576.72 L337.07,577.97 L335.82,579.22 L334.57,577.97 Z" fill="#28405e"/>
<circle cx="383.26" cy="573.06" r="0.98" fill="#8e1a42"/>
<circle cx="349.73" cy="585.14" r="0.98" fill="#8e1a42"/>
<circle cx="390.82" cy="596.93" r="0.98" fill="#8e1a42"/>
<circle cx="374.11" cy="532.63" r="0.98" fill="#8e1a42"/>
<circle cx="324.79" cy="561.02" r="0.98" fill="#8e1a42"/>
<circle cx="378.80" cy="559.93" r="0.98" fill="#8e1a42"/>
<circle cx="384.93" cy="593.03" r="0.98" fill="#8e1a42"/>
<path d="M347.09,595.48 L348.34,596.73 L347.09,597.98 L345.84,596.73 Z" fill="#28405e"/>
<path d="M347.40,549.87 L348.65,551.12 L347.40,552.37 L346.15,551.12 Z" fill="#28405e"/>
<circle cx="381.59" cy="553.90" r="0.98" fill="#8e1a42"/>
<circle cx="363.89" cy="522.70" r="0.98" fill="#8e1a42"/>
<circle cx="382.55" cy="525.08" r="0.98" fill="#8e1a42"/>
<path d="M374.06,553.40 L375.31,554.65 L374.06,555.90 L372.81,554.65 Z" fill="#28405e"/>
<path d="M344.93,542.13 L346.18,543.38 L344.93,544.63 L343.68,543.38 Z" fill="#28405e"/>
<path d="M346.05,572.24 L347.30,573.49 L346.05,574.74 L344.80,573.49 Z" fill="#28405e"/>
<path d="M372.21,554.13 L373.46,555.38 L372.21,556.63 L370.96,555.38 Z" fill="#28405e"/>
<circle cx="364.02" cy="589.41" r="0.98" fill="#8e1a42"/>
<circle cx="384.59" cy="588.77" r="0.98" fill="#8e1a42"/>
<path d="M360.17,518.77 L361.42,520.02 L360.17,521.27 L358.92,520.02 Z" fill="#28405e"/>
<path d="M355.98,607.31 L357.23,608.56 L355.98,609.81 L354.73,608.56 Z" fill="#28405e"/>
<circle cx="357.22" cy="561.68" r="0.98" fill="#8e1a42"/>
<circle cx="367.90" cy="574.29" r="0.98" fill="#8e1a42"/>
<path d="M347.40,557.80 L348.65,559.05 L347.40,560.30 L346.15,559.05 Z" fill="#28405e"/>
<path d="M341.58,499.40 L342.83,500.65 L341.58,501.90 L340.33,500.65 Z" fill="#28405e"/>
<circle cx="348.99" cy="556.84" r="0.98" fill="#8e1a42"/>
<circle cx="341.26" cy="583.97" r="0.98" fill="#8e1a42"/>
<path d="M376.95,559.45 L378.20,560.70 L376.95,561.95 L375.70,560.70 Z" fill="#28405e"/>
<path d="M364.46,506.61 L365.71,507.86 L364.46,509.11 L363.21,507.86 Z" fill="#28405e"/>
<circle cx="398.03" cy="544.98" r="0.98" fill="#8e1a42"/>
<path d="M324.33,563.58 L325.58,564.83 L324.33,566.08 L323.08,564.83 Z" fill="#28405e"/>
<circle cx="345.01" cy="503.11" r="0.98" fill="#8e1a42"/>
<path d="M368.27,609.68 L369.52,610.93 L368.27,612.18 L367.02,610.93 Z" fill="#28405e"/>
<path d="M370.08,557.65 L371.33,558.90 L370.08,560.15 L368.83,558.90 Z" fill="#28405e"/>
<path d="M335.96,555.90 L337.21,557.15 L335.96,558.40 L334.71,557.15 Z" fill="#28405e"/>
<path d="M373.52,549.85 L374.77,551.10 L373.52,552.35 L372.27,551.10 Z" fill="#28405e"/>
<circle cx="376.07" cy="556.05" r="0.98" fill="#8e1a42"/>
<path d="M358.51,491.62 L359.76,492.87 L358.51,494.12 L357.26,492.87 Z" fill="#28405e"/>
<path d="M344.54,562.95 L345.79,564.20 L344.54,565.45 L343.29,564.20 Z" fill="#28405e"/>
<path d="M365.28,519.05 L366.53,520.30 L365.28,521.55 L364.03,520.30 Z" fill="#28405e"/>
<path d="M368.71,508.50 L369.96,509.75 L368.71,511.00 L367.46,509.75 Z" fill="#28405e"/>
<circle cx="390.46" cy="520.78" r="0.98" fill="#8e1a42"/>
<circle cx="363.39" cy="556.34" r="0.98" fill="#8e1a42"/>
<path d="M345.31,580.56 L346.56,581.81 L345.31,583.06 L344.06,581.81 Z" fill="#28405e"/>
<circle cx="329.43" cy="586.43" r="0.98" fill="#8e1a42"/>
<circle cx="386.92" cy="542.80" r="0.98" fill="#8e1a42"/>
<circle cx="386.72" cy="554.15" r="0.98" fill="#8e1a42"/>
<path d="M369.01,552.97 L370.26,554.22 L369.01,555.47 L367.76,554.22 Z" fill="#28405e"/>
<path d="M349.40,525.63 L350.65,526.88 L349.40,528.13 L348.15,526.88 Z" fill="#28405e"/>
<circle cx="374.38" cy="501.23" r="0.98" fill="#8e1a42"/>
<path d="M385.21,515.45 L386.46,516.70 L385.21,517.95 L383.96,516.70 Z" fill="#28405e"/>
<path d="M354.41,579.69 L355.66,580.94 L354.41,582.19 L353.16,580.94 Z" fill="#28405e"/>
<circle cx="375.57" cy="580.32" r="0.98" fill="#8e1a42"/>
<path d="M391.58,548.17 L392.83,549.42 L391.58,550.67 L390.33,549.42 Z" fill="#28405e"/>
<circle cx="343.35" cy="537.54" r="0.98" fill="#8e1a42"/>
<circle cx="370.49" cy="608.36" r="0.98" fill="#8e1a42"/>
<circle cx="373.06" cy="529.37" r="0.98" fill="#8e1a42"/>
<path d="M337.16,555.61 L338.41,556.86 L337.16,558.11 L335.91,556.86 Z" fill="#28405e"/>
<circle cx="353.88" cy="609.39" r="0.98" fill="#8e1a42"/>
<path d="M360.31,499.34 L361.56,500.59 L360.31,501.84 L359.06,500.59 Z" fill="#28405e"/>
<circle cx="397.29" cy="511.04" r="0.98" fill="#8e1a42"/>
<circle cx="382.06" cy="527.80" r="0.98" fill="#8e1a42"/>
<path d="M369.63,535.70 L370.88,536.95 L369.63,538.20 L368.38,536.95 Z" fill="#28405e"/>
<circle cx="364.94" cy="606.29" r="0.98" fill="#8e1a42"/>
<circle cx="382.67" cy="511.35" r="0.98" fill="#8e1a42"/>
<path d="M396.13,517.22 L397.38,518.47 L396.13,519.72 L394.88,518.47 Z" fill="#28405e"/>
<circle cx="349.88" cy="572.60" r="0.98" fill="#8e1a42"/>
<circle cx="372.44" cy="496.19" r="0.98" fill="#8e1a42"/>
<circle cx="384.39" cy="532.86" r="0.98" fill="#8e1a42"/>
<circle cx="387.63" cy="535.57" r="0.98" fill="#8e1a42"/>
<path d="M346.23,547.29 L347.48,548.54 L346.23,549.79 L344.98,548.54 Z" fill="#28405e"/>
<path d="M354.84,567.93 L356.09,569.18 L354.84,570.43 L353.59,569.18 Z" fill="#28405e"/>
<path d="M378.30,550.33 L379.55,551.58 L378.30,552.83 L377.05,551.58 Z" fill="#28405e"/>
<circle cx="393.19" cy="563.95" r="0.98" fill="#8e1a42"/>
<circle cx="367.31" cy="538.37" r="0.98" fill="#8e1a42"/>
<path d="M342.36,523.38 L343.61,524.63 L342.36,525.88 L341.11,524.63 Z" fill="#28405e"/>
<path d="M351.10,551.94 L352.35,553.19 L351.10,554.44 L349.85,553.19 Z" fill="#28405e"/>
<circle cx="359.37" cy="579.90" r="0.98" fill="#8e1a42"/>
<path d="M365.25,589.74 L366.50,590.99 L365.25,592.24 L364.00,590.99 Z" fill="#28405e"/>
<circle cx="395.81" cy="603.85" r="0.98" fill="#8e1a42"/>
<circle cx="388.41" cy="560.40" r="0.98" fill="#8e1a42"/>
<path d="M353.37,594.89 L354.62,596.14 L353.37,597.39 L352.12,596.14 Z" fill="#28405e"/>
<path d="M376.32,514.31 L377.57,515.56 L376.32,516.81 L375.07,515.56 Z" fill="#28405e"/>
<path d="M383.29,610.26 L384.54,611.51 L383.29,612.76 L382.04,611.51 Z" fill="#28405e"/>
<circle cx="380.79" cy="533.31" r="0.98" fill="#8e1a42"/>
<path d="M365.36,504.56 L366.61,505.81 L365.36,507.06 L364.11,505.81 Z" fill="#28405e"/>
<circle cx="380.45" cy="554.98" r="0.98" fill="#8e1a42"/>
<path d="M345.94,504.04 L347.19,505.29 L345.94,506.54 L344.69,505.29 Z" fill="#28405e"/>
<circle cx="372.53" cy="596.90" r="0.98" fill="#8e1a42"/>
<circle cx="349.72" cy="573.87" r="0.98" fill="#8e1a42"/>
<circle cx="384.90" cy="590.11" r="0.98" fill="#8e1a42"/>
<path d="M326.05,560.90 L327.30,562.15 L326.05,563.40 L324.80,562.15 Z" fill="#28405e"/>
<path d="M346.17,607.68 L347.42,608.93 L346.17,610.18 L344.92,608.93 Z" fill="#28405e"/>
<circle cx="358.09" cy="493.86" r="0.98" fill="#8e1a42"/>
<path d="M395.91,560.58 L397.16,561.83 L395.91,563.08 L394.66,561.83 Z" fill="#28405e"/>
<circle cx="365.46" cy="529.98" r="0.98" fill="#8e1a42"/>
<path d="M343.21,570.73 L344.46,571.98 L343.21,573.23 L341.96,571.98 Z" fill="#28405e"/>
<path d="M380.15,488.78 L381.40,490.03 L380.15,491.28 L378.90,490.03 Z" fill="#28405e"/>
<circle cx="402.49" cy="542.88" r="0.98" fill="#8e1a42"/>
<path d="M355.94,555.07 L357.19,556.32 L355.94,557.57 L354.69,556.32 Z" fill="#28405e"/>
<path d="M339.22,597.56 L340.47,598.81 L339.22,600.06 L337.97,598.81 Z" fill="#28405e"/>
<path d="M363.87,514.65 L365.12,515.90 L363.87,517.15 L362.62,515.90 Z" fill="#28405e"/>
<circle cx="373.27" cy="531.94" r="0.98" fill="#8e1a42"/>
<path d="M362.33,608.36 L363.58,609.61 L362.33,610.86 L361.08,609.61 Z" fill="#28405e"/>
<path d="M368.39,540.60 L369.64,541.85 L368.39,543.10 L367.14,541.85 Z" fill="#28405e"/>
<circle cx="390.47" cy="545.12" r="0.98" fill="#8e1a42"/>
<path d="M359.49,514.35 L360.74,515.60 L359.49,516.85 L358.24,515.60 Z" fill="#28405e"/>
<path d="M392.30,554.47 L393.55,555.72 L392.30,556.97 L391.05,555.72 Z" fill="#28405e"/>
<circle cx="369.33" cy="514.67" r="0.98" fill="#8e1a42"/>
<path d="M360.84,523.82 L362.09,525.07 L360.84,526.32 L359.59,525.07 Z" fill="#28405e"/>
<circle cx="399.58" cy="534.41" r="0.98" fill="#8e1a42"/>
<circle cx="373.48" cy="525.25" r="0.98" fill="#8e1a42"/>
<circle cx="364.43" cy="610.34" r="0.98" fill="#8e1a42"/>
<path d="M358.10,576.56 L359.35,577.81 L358.10,579.06 L356.85,577.81 Z" fill="#28405e"/>
<path d="M333.67,542.95 L334.92,544.20 L333.67,545.45 L332.42,544.20 Z" fill="#28405e"/>
<circle cx="354.66" cy="534.02" r="0.98" fill="#8e1a42"/>
<circle cx="372.80" cy="518.32" r="0.98" fill="#8e1a42"/>
<circle cx="373.84" cy="500.11" r="0.98" fill="#8e1a42"/>
<circle cx="400.67" cy="504.20" r="0.98" fill="#8e1a42"/>
<path d="M355.56,529.20 L356.81,530.45 L355.56,531.70 L354.31,530.45 Z" fill="#28405e"/>
<circle cx="374.85" cy="529.02" r="0.98" fill="#8e1a42"/>
<circle cx="373.63" cy="528.86" r="0.98" fill="#8e1a42"/>
<circle cx="351.98" cy="530.44" r="0.98" fill="#8e1a42"/>
<path d="M343.83,533.08 L345.08,534.33 L343.83,535.58 L342.58,534.33 Z" fill="#28405e"/>
<path d="M373.26,536.75 L374.51,538.00 L373.26,539.25 L372.01,538.00 Z" fill="#28405e"/>
<path d="M342.54,561.51 L343.79,562.76 L342.54,564.01 L341.29,562.76 Z" fill="#28405e"/>
<path d="M399.46,540.96 L400.71,542.21 L399.46,543.46 L398.21,542.21 Z" fill="#28405e"/>
<path d="M346.15,539.09 L347.40,540.34 L346.15,541.59 L344.90,540.34 Z" fill="#28405e"/>
<circle cx="348.15" cy="579.96" r="0.98" fill="#8e1a42"/>
<circle cx="360.23" cy="586.80" r="0.98" fill="#8e1a42"/>
<circle cx="383.25" cy="615.21" r="0.98" fill="#8e1a42"/>
<path d="M371.13,591.66 L372.38,592.91 L371.13,594.16 L369.88,592.91 Z" fill="#28405e"/>
<circle cx="384.72" cy="524.92" r="0.98" fill="#8e1a42"/>
<circle cx="335.96" cy="555.17" r="0.98" fill="#8e1a42"/>
<path d="M358.84,519.89 L360.09,521.14 L358.84,522.39 L357.59,521.14 Z" fill="#28405e"/>
<path d="M346.78,587.33 L348.03,588.58 L346.78,589.83 L345.53,588.58 Z" fill="#28405e"/>
<circle cx="395.74" cy="561.89" r="0.98" fill="#8e1a42"/>
<path d="M341.94,510.63 L343.19,511.88 L341.94,513.13 L340.69,511.88 Z" fill="#28405e"/>
<path d="M331.05,590.50 L332.30,591.75 L331.05,593.00 L329.80,591.75 Z" fill="#28405e"/>
<path d="M337.85,565.48 L339.10,566.73 L337.85,567.98 L336.60,566.73 Z" fill="#28405e"/>
<circle cx="365.23" cy="610.18" r="0.98" fill="#8e1a42"/>
<path d="M370.89,577.32 L372.14,578.57 L370.89,579.82 L369.64,578.57 Z" fill="#28405e"/>
<circle cx="344.82" cy="569.88" r="0.98" fill="#8e1a42"/>
<circle cx="385.66" cy="558.17" r="0.98" fill="#8e1a42"/>
<path d="M370.30,528.64 L371.55,529.89 L370.30,531.14 L369.05,529.89 Z" fill="#28405e"/>
<circle cx="378.58" cy="556.03" r="0.98" fill="#8e1a42"/>
<path d="M360.50,589.01 L361.75,590.26 L360.50,591.51 L359.25,590.26 Z" fill="#28405e"/>
<path d="M372.09,564.49 L373.34,565.74 L372.09,566.99 L370.84,565.74 Z" fill="#28405e"/>
<circle cx="389.86" cy="600.80" r="0.98" fill="#8e1a42"/>
<path d="M331.77,528.96 L333.02,530.21 L331.77,531.46 L330.52,530.21 Z" fill="#28405e"/>
<circle cx="378.16" cy="575.60" r="0.98" fill="#8e1a42"/>
<circle cx="398.29" cy="554.26" r="0.98" fill="#8e1a42"/>
<circle cx="345.95" cy="594.87" r="0.98" fill="#8e1a42"/>
<path d="M371.92,578.05 L373.17,579.30 L371.92,580.55 L370.67,579.30 Z" fill="#28405e"/>
<circle cx="393.65" cy="580.82" r="0.98" fill="#8e1a42"/>
<circle cx="335.88" cy="569.50" r="0.98" fill="#8e1a42"/>
</svg></body></html>
